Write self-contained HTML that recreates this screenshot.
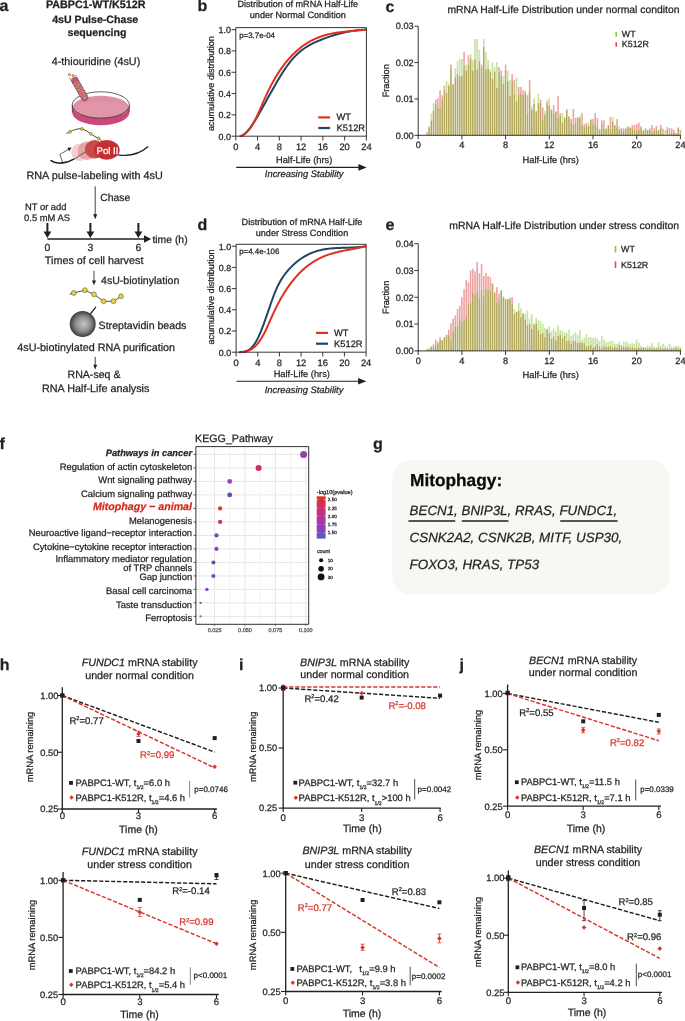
<!DOCTYPE html>
<html><head><meta charset="utf-8"><style>
html,body{margin:0;padding:0;background:#fff;}
svg{display:block;will-change:transform;filter:blur(0.25px);}
text{font-family:"Liberation Sans",sans-serif;text-rendering:geometricPrecision;}
</style></head><body>
<svg width="685" height="1021" viewBox="0 0 685 1021" fill="#231f20">
<defs>
<radialGradient id="bead" cx="0.5" cy="0.5" r="0.5" fx="0.55" fy="0.5">
<stop offset="0" stop-color="#c8c8c8"/><stop offset="0.6" stop-color="#8a8a8a"/><stop offset="1" stop-color="#3c3c3c"/>
</radialGradient>
<linearGradient id="cbar" x1="0" y1="0" x2="0" y2="1">
<stop offset="0" stop-color="#e0302c"/><stop offset="0.35" stop-color="#c8307a"/><stop offset="0.7" stop-color="#9a3ab8"/><stop offset="1" stop-color="#5a5cc0"/>
</linearGradient>
</defs>
<text x="-0.60" y="11.30" font-size="16" font-weight="bold" stroke="#231f20" stroke-width="0.25">a</text>
<text x="95.70" y="7.90" font-size="10.75" font-weight="bold" text-anchor="middle" stroke="#231f20" stroke-width="0.25">PABPC1-WT/K512R</text>
<text x="95.20" y="22.80" font-size="10.6" font-weight="bold" text-anchor="middle" stroke="#231f20" stroke-width="0.25">4sU Pulse-Chase</text>
<text x="97.00" y="35.60" font-size="10.6" font-weight="bold" text-anchor="middle" stroke="#231f20" stroke-width="0.25">sequencing</text>
<text x="96.00" y="64.50" font-size="10.75" text-anchor="middle" stroke="#231f20" stroke-width="0.25">4-thiouridine (4sU)</text>
<ellipse cx="100.80" cy="112.20" rx="28.60" ry="13.00" fill="#c9497c" stroke="none" stroke-width="0.5" />
<rect x="72.20" y="105.00" width="57.20" height="7.20" fill="#c9497c" />
<ellipse cx="100.80" cy="105.00" rx="28.60" ry="13.20" fill="#ffffff" stroke="none" stroke-width="0.5" />
<ellipse cx="100.80" cy="107.00" rx="27.80" ry="11.20" fill="#de8fa4" stroke="none" stroke-width="0.5" />
<ellipse cx="100.80" cy="109.50" rx="27.00" ry="8.20" fill="#e29aad" stroke="none" stroke-width="0.5" opacity="0.6"/>
<path d="M72.2,105 A28.6,13.2 0 0 1 129.4,105" fill="none" stroke="#231f20" stroke-width="0.7" />
<path d="M72.2,105 A28.6,13.2 0 0 0 129.4,105" fill="none" stroke="#231f20" stroke-width="0.75" />
<line x1="72.20" y1="105.00" x2="72.30" y2="112.20" stroke="#231f20" stroke-width="0.5" />
<line x1="129.40" y1="105.00" x2="129.30" y2="112.20" stroke="#231f20" stroke-width="0.5" />
<g transform="translate(72.5,76.2) rotate(-29.51)"><path d="M-3.3,4.2 A3.3,2.6 0 0 1 3.3,4.2 L3.3,24.51 A3.3,3.3 0 0 1 -3.3,24.51 Z" fill="#d6668e"/><path d="M-3.3,4.2 A3.3,2.6 0 0 1 3.3,4.2 L3.3,7 L-3.3,7 Z" fill="#c84a7c" opacity="0.8"/><path d="M-3.3,0 L-3.3,24.51 A3.3,3.3 0 0 0 3.3,24.51 L3.3,0" fill="none" stroke="#231f20" stroke-width="0.6" stroke-dasharray="1.4 0.5"/></g>
<circle cx="75.10" cy="82.90" r="1.20" fill="#e8d33c" stroke="#4a4020" stroke-width="0.45" />
<circle cx="78.80" cy="84.80" r="1.20" fill="#e8d33c" stroke="#4a4020" stroke-width="0.45" />
<circle cx="78.80" cy="89.60" r="1.20" fill="#e8d33c" stroke="#4a4020" stroke-width="0.45" />
<circle cx="82.60" cy="91.70" r="1.20" fill="#e8d33c" stroke="#4a4020" stroke-width="0.45" />
<circle cx="84.50" cy="97.80" r="1.20" fill="#e8d33c" stroke="#4a4020" stroke-width="0.45" />
<circle cx="69.40" cy="74.60" r="1.20" fill="#e8d33c" stroke="#4a4020" stroke-width="0.45" />
<circle cx="73.20" cy="75.70" r="1.20" fill="#e8d33c" stroke="#4a4020" stroke-width="0.45" />
<path d="M50.5,160.3 C56,164.5 66,164 75,158.5 C82,154 88,149.5 96,149.5" fill="none" stroke="#231f20" stroke-width="1.35" />
<ellipse cx="79.50" cy="152.30" rx="8.20" ry="8.80" fill="#f3cfcf" stroke="none" stroke-width="0.5" />
<ellipse cx="86.80" cy="150.70" rx="9.20" ry="9.20" fill="#e4a0a0" stroke="none" stroke-width="0.5" opacity="0.9"/>
<path d="M50.5,160.3 C56,164.5 66,164 75,158.5 C82,154 88,149.5 96,149.5" fill="none" stroke="#231f20" stroke-width="1.2" opacity="0.5"/>
<ellipse cx="94.50" cy="149.30" rx="9.60" ry="9.20" fill="#cc4a48" stroke="none" stroke-width="0.5" />
<ellipse cx="106.80" cy="149.90" rx="12.90" ry="9.80" fill="#c3302f" stroke="none" stroke-width="0.5" />
<text x="107.50" y="153.60" font-size="9.6" text-anchor="middle" fill="#ffffff" stroke="#ffffff" stroke-width="0.25">Pol II</text>
<path d="M118,154.8 C126,156 138,155.5 148.2,146.5" fill="none" stroke="#231f20" stroke-width="1.35" />
<path d="M62.6,162.4 L59.9,154.3 L69.0,149.2" fill="none" stroke="#231f20" stroke-width="0.7" />
<path d="M71.6,147.6 L67.4,147.8 L69.2,151.2 Z" fill="#231f20" stroke="none" stroke-width="0.8" />
<path d="M66.3,133.6 C71,131 78,127.5 83,129.2 C87,130.5 92,135.5 96,137 C98,138 100,139.5 101.5,140.8" fill="none" stroke="#231f20" stroke-width="0.8" />
<circle cx="69.90" cy="131.90" r="1.45" fill="#e8d33c" stroke="#4a4020" stroke-width="0.45" />
<circle cx="81.90" cy="129.00" r="1.45" fill="#e8d33c" stroke="#4a4020" stroke-width="0.45" />
<circle cx="90.80" cy="133.90" r="1.45" fill="#e8d33c" stroke="#4a4020" stroke-width="0.45" />
<circle cx="98.50" cy="138.30" r="1.45" fill="#e8d33c" stroke="#4a4020" stroke-width="0.45" />
<text x="26.50" y="178.60" font-size="10.8" stroke="#231f20" stroke-width="0.25">RNA pulse-labeling with 4sU</text>
<line x1="95.20" y1="186.40" x2="95.20" y2="215.50" stroke="#231f20" stroke-width="0.85" />
<path d="M93.2,214.3 L95.2,219.2 L97.2,214.3 Z" fill="#231f20" stroke="none" stroke-width="0.8" />
<text x="100.30" y="200.80" font-size="10.4" stroke="#231f20" stroke-width="0.25">Chase</text>
<text x="25.00" y="210.00" font-size="9.4" stroke="#231f20" stroke-width="0.25">NT or add</text>
<text x="24.10" y="220.60" font-size="9.4" stroke="#231f20" stroke-width="0.25">0.5 mM AS</text>
<line x1="47.40" y1="239.00" x2="145.50" y2="239.00" stroke="#231f20" stroke-width="1.4" />
<path d="M144.0,235.2 L151.2,239.0 L144.0,242.8 Z" fill="#231f20" stroke="none" stroke-width="0.8" />
<line x1="47.40" y1="223.00" x2="47.40" y2="232.50" stroke="#231f20" stroke-width="2.0" />
<path d="M43.50,231.4 L47.40,238.0 L51.30,231.4 Z" fill="#231f20" stroke="none" stroke-width="0.8" />
<line x1="90.40" y1="223.00" x2="90.40" y2="232.50" stroke="#231f20" stroke-width="2.0" />
<path d="M86.50,231.4 L90.40,238.0 L94.30,231.4 Z" fill="#231f20" stroke="none" stroke-width="0.8" />
<line x1="138.40" y1="223.00" x2="138.40" y2="232.50" stroke="#231f20" stroke-width="2.0" />
<path d="M134.50,231.4 L138.40,238.0 L142.30,231.4 Z" fill="#231f20" stroke="none" stroke-width="0.8" />
<text x="152.40" y="243.30" font-size="10.4" stroke="#231f20" stroke-width="0.25">time (h)</text>
<text x="47.40" y="250.80" font-size="10.4" text-anchor="middle" stroke="#231f20" stroke-width="0.25">0</text>
<text x="90.40" y="250.80" font-size="10.4" text-anchor="middle" stroke="#231f20" stroke-width="0.25">3</text>
<text x="138.40" y="250.80" font-size="10.4" text-anchor="middle" stroke="#231f20" stroke-width="0.25">6</text>
<text x="44.80" y="264.40" font-size="10.8" stroke="#231f20" stroke-width="0.25">Times of cell harvest</text>
<line x1="94.00" y1="270.80" x2="94.00" y2="281.50" stroke="#231f20" stroke-width="0.85" />
<path d="M92.0,280.4 L94.0,285.2 L96.0,280.4 Z" fill="#231f20" stroke="none" stroke-width="0.8" />
<text x="101.00" y="283.90" font-size="10.6" stroke="#231f20" stroke-width="0.25">4sU-biotinylation</text>
<path d="M69.6,294.2 L73.8,293.0 L84.9,290.2 L94.0,294.4 L103.5,301.3 L113.5,301.3 L121.0,296.3" fill="none" stroke="#231f20" stroke-width="0.8" />
<circle cx="73.80" cy="293.00" r="2.45" fill="#e8d33c" stroke="#5a5020" stroke-width="0.55" />
<circle cx="84.90" cy="290.20" r="2.45" fill="#e8d33c" stroke="#5a5020" stroke-width="0.55" />
<circle cx="94.00" cy="294.40" r="2.45" fill="#e8d33c" stroke="#5a5020" stroke-width="0.55" />
<circle cx="103.50" cy="301.30" r="2.45" fill="#e8d33c" stroke="#5a5020" stroke-width="0.55" />
<circle cx="113.50" cy="301.30" r="2.45" fill="#e8d33c" stroke="#5a5020" stroke-width="0.55" />
<circle cx="121.00" cy="296.30" r="2.45" fill="#e8d33c" stroke="#5a5020" stroke-width="0.55" />
<line x1="96.00" y1="306.90" x2="89.50" y2="315.00" stroke="#231f20" stroke-width="1.2" />
<circle cx="82.70" cy="324.00" r="13.00" fill="url(#bead)" stroke="none" stroke-width="0.5" />
<text x="98.60" y="329.10" font-size="10.6" stroke="#231f20" stroke-width="0.25">Streptavidin beads</text>
<text x="17.30" y="351.30" font-size="10.8" stroke="#231f20" stroke-width="0.25">4sU-biotinylated RNA purification</text>
<line x1="95.20" y1="356.80" x2="95.20" y2="366.00" stroke="#231f20" stroke-width="0.85" />
<path d="M93.2,364.8 L95.2,369.6 L97.2,364.8 Z" fill="#231f20" stroke="none" stroke-width="0.8" />
<text x="67.50" y="378.30" font-size="10.6" stroke="#231f20" stroke-width="0.25">RNA-seq &amp;</text>
<text x="42.00" y="392.20" font-size="10.8" stroke="#231f20" stroke-width="0.25">RNA Half-Life analysis</text>
<text x="197.60" y="11.40" font-size="16" font-weight="bold" stroke="#231f20" stroke-width="0.25">b</text>
<text x="297.80" y="6.60" font-size="9.1" text-anchor="middle" stroke="#231f20" stroke-width="0.25">Distribution of mRNA Half-Life</text>
<text x="297.80" y="18.40" font-size="9.1" text-anchor="middle" stroke="#231f20" stroke-width="0.25">under Normal Condition</text>
<path d="M239.83,136.20 L240.53,136.03 L241.24,135.77 L241.95,135.45 L242.66,135.07 L243.36,134.63 L244.07,134.13 L244.78,133.58 L245.48,132.97 L246.19,132.31 L246.90,131.60 L247.61,130.84 L248.31,130.04 L249.02,129.20 L249.73,128.32 L250.43,127.39 L251.14,126.43 L251.85,125.44 L252.55,124.41 L253.26,123.35 L253.97,122.27 L254.68,121.15 L255.38,120.02 L256.09,118.86 L256.80,117.68 L257.50,116.48 L258.21,115.27 L258.92,114.04 L259.63,112.81 L260.33,111.56 L261.04,110.30 L261.75,109.04 L262.45,107.78 L263.16,106.50 L263.87,105.23 L264.58,103.95 L265.28,102.67 L265.99,101.39 L266.70,100.11 L267.40,98.83 L268.11,97.55 L268.82,96.27 L269.53,94.99 L270.23,93.71 L270.94,92.44 L271.65,91.17 L272.35,89.91 L273.06,88.65 L273.77,87.40 L274.48,86.16 L275.18,84.92 L275.89,83.70 L276.60,82.48 L277.30,81.27 L278.01,80.07 L278.72,78.88 L279.43,77.71 L280.13,76.55 L280.84,75.40 L281.55,74.27 L282.25,73.15 L282.96,72.04 L283.67,70.96 L284.37,69.89 L285.08,68.84 L285.79,67.80 L286.50,66.79 L287.20,65.79 L287.91,64.82 L288.62,63.87 L289.32,62.94 L290.03,62.03 L290.74,61.15 L291.45,60.29 L292.15,59.45 L292.86,58.64 L293.57,57.85 L294.27,57.09 L294.98,56.34 L295.69,55.62 L296.40,54.92 L297.10,54.24 L297.81,53.58 L298.52,52.94 L299.22,52.32 L299.93,51.72 L300.64,51.13 L301.35,50.57 L302.05,50.02 L302.76,49.48 L303.47,48.97 L304.17,48.47 L304.88,47.98 L305.59,47.51 L306.30,47.05 L307.00,46.60 L307.71,46.17 L308.42,45.75 L309.12,45.35 L309.83,44.95 L310.54,44.57 L311.25,44.19 L311.95,43.83 L312.66,43.47 L313.37,43.13 L314.07,42.79 L314.78,42.46 L315.49,42.14 L316.20,41.82 L316.90,41.51 L317.61,41.21 L318.32,40.91 L319.02,40.62 L319.73,40.33 L320.44,40.04 L321.14,39.76 L321.85,39.48 L322.56,39.21 L323.27,38.94 L323.97,38.67 L324.68,38.40 L325.39,38.14 L326.09,37.88 L326.80,37.62 L327.51,37.37 L328.22,37.12 L328.92,36.88 L329.63,36.64 L330.34,36.40 L331.04,36.17 L331.75,35.94 L332.46,35.71 L333.17,35.49 L333.87,35.27 L334.58,35.05 L335.29,34.84 L335.99,34.63 L336.70,34.43 L337.41,34.22 L338.12,34.03 L338.82,33.83 L339.53,33.65 L340.24,33.46 L340.94,33.28 L341.65,33.10 L342.36,32.93 L343.07,32.76 L343.77,32.59 L344.48,32.43 L345.19,32.28 L345.89,32.12 L346.60,31.97 L347.31,31.83 L348.02,31.69 L348.72,31.55 L349.43,31.42 L350.14,31.29 L350.84,31.17 L351.55,31.05 L352.26,30.94 L352.96,30.83 L353.67,30.72 L354.38,30.62 L355.09,30.52 L355.79,30.43 L356.50,30.34 L357.21,30.26 L357.91,30.18 L358.62,30.11 L359.33,30.04 L360.04,29.97 L360.74,29.91 L361.45,29.86 L362.16,29.80 L362.86,29.76 L363.57,29.72 L364.28,29.68 L364.99,29.65 L365.69,29.62 L366.40,29.60" fill="none" stroke="#1d4762" stroke-width="2.0" stroke-linejoin="round"/>
<path d="M239.83,136.18 L240.53,136.06 L241.24,135.88 L241.95,135.63 L242.66,135.32 L243.36,134.94 L244.07,134.51 L244.78,134.01 L245.48,133.45 L246.19,132.83 L246.90,132.15 L247.61,131.41 L248.31,130.61 L249.02,129.75 L249.73,128.84 L250.43,127.86 L251.14,126.83 L251.85,125.73 L252.55,124.58 L253.26,123.38 L253.97,122.11 L254.68,120.79 L255.38,119.42 L256.09,118.00 L256.80,116.53 L257.50,115.03 L258.21,113.49 L258.92,111.92 L259.63,110.33 L260.33,108.72 L261.04,107.10 L261.75,105.47 L262.45,103.84 L263.16,102.21 L263.87,100.58 L264.58,98.97 L265.28,97.38 L265.99,95.81 L266.70,94.27 L267.40,92.76 L268.11,91.28 L268.82,89.82 L269.53,88.40 L270.23,87.00 L270.94,85.63 L271.65,84.28 L272.35,82.97 L273.06,81.67 L273.77,80.41 L274.48,79.17 L275.18,77.96 L275.89,76.77 L276.60,75.60 L277.30,74.46 L278.01,73.34 L278.72,72.24 L279.43,71.17 L280.13,70.12 L280.84,69.09 L281.55,68.08 L282.25,67.10 L282.96,66.13 L283.67,65.19 L284.37,64.26 L285.08,63.36 L285.79,62.47 L286.50,61.60 L287.20,60.75 L287.91,59.92 L288.62,59.10 L289.32,58.31 L290.03,57.53 L290.74,56.76 L291.45,56.01 L292.15,55.28 L292.86,54.56 L293.57,53.86 L294.27,53.17 L294.98,52.50 L295.69,51.84 L296.40,51.20 L297.10,50.57 L297.81,49.95 L298.52,49.35 L299.22,48.76 L299.93,48.19 L300.64,47.63 L301.35,47.08 L302.05,46.55 L302.76,46.03 L303.47,45.52 L304.17,45.03 L304.88,44.54 L305.59,44.07 L306.30,43.61 L307.00,43.17 L307.71,42.73 L308.42,42.31 L309.12,41.89 L309.83,41.49 L310.54,41.10 L311.25,40.72 L311.95,40.35 L312.66,39.99 L313.37,39.64 L314.07,39.31 L314.78,38.98 L315.49,38.66 L316.20,38.35 L316.90,38.05 L317.61,37.76 L318.32,37.48 L319.02,37.20 L319.73,36.94 L320.44,36.68 L321.14,36.43 L321.85,36.19 L322.56,35.96 L323.27,35.74 L323.97,35.52 L324.68,35.31 L325.39,35.11 L326.09,34.91 L326.80,34.73 L327.51,34.55 L328.22,34.37 L328.92,34.20 L329.63,34.04 L330.34,33.88 L331.04,33.73 L331.75,33.59 L332.46,33.45 L333.17,33.31 L333.87,33.18 L334.58,33.06 L335.29,32.94 L335.99,32.82 L336.70,32.71 L337.41,32.60 L338.12,32.50 L338.82,32.40 L339.53,32.30 L340.24,32.21 L340.94,32.12 L341.65,32.04 L342.36,31.95 L343.07,31.87 L343.77,31.80 L344.48,31.72 L345.19,31.65 L345.89,31.58 L346.60,31.51 L347.31,31.44 L348.02,31.37 L348.72,31.31 L349.43,31.25 L350.14,31.18 L350.84,31.12 L351.55,31.06 L352.26,31.00 L352.96,30.94 L353.67,30.88 L354.38,30.82 L355.09,30.76 L355.79,30.69 L356.50,30.63 L357.21,30.57 L357.91,30.50 L358.62,30.44 L359.33,30.37 L360.04,30.30 L360.74,30.23 L361.45,30.16 L362.16,30.09 L362.86,30.01 L363.57,29.93 L364.28,29.85 L364.99,29.77 L365.69,29.68 L366.40,29.60" fill="none" stroke="#e3301e" stroke-width="2.0" stroke-linejoin="round"/>
<path d="M235.80,27.60 L366.40,27.60 L366.40,136.20 L235.80,136.20 Z" fill="none" stroke="#231f20" stroke-width="0.9" />
<line x1="231.50" y1="136.20" x2="235.80" y2="136.20" stroke="#231f20" stroke-width="0.9" />
<text x="230.90" y="139.50" font-size="8.9" text-anchor="end" stroke="#231f20" stroke-width="0.25">0.0</text>
<line x1="231.50" y1="114.88" x2="235.80" y2="114.88" stroke="#231f20" stroke-width="0.9" />
<text x="230.90" y="118.18" font-size="8.9" text-anchor="end" stroke="#231f20" stroke-width="0.25">0.2</text>
<line x1="231.50" y1="93.56" x2="235.80" y2="93.56" stroke="#231f20" stroke-width="0.9" />
<text x="230.90" y="96.86" font-size="8.9" text-anchor="end" stroke="#231f20" stroke-width="0.25">0.4</text>
<line x1="231.50" y1="72.24" x2="235.80" y2="72.24" stroke="#231f20" stroke-width="0.9" />
<text x="230.90" y="75.54" font-size="8.9" text-anchor="end" stroke="#231f20" stroke-width="0.25">0.6</text>
<line x1="231.50" y1="50.92" x2="235.80" y2="50.92" stroke="#231f20" stroke-width="0.9" />
<text x="230.90" y="54.22" font-size="8.9" text-anchor="end" stroke="#231f20" stroke-width="0.25">0.8</text>
<line x1="231.50" y1="29.60" x2="235.80" y2="29.60" stroke="#231f20" stroke-width="0.9" />
<text x="230.90" y="32.90" font-size="8.9" text-anchor="end" stroke="#231f20" stroke-width="0.25">1.0</text>
<line x1="235.80" y1="136.20" x2="235.80" y2="140.50" stroke="#231f20" stroke-width="0.9" />
<text x="235.80" y="150.40" font-size="9.4" text-anchor="middle" stroke="#231f20" stroke-width="0.25">0</text>
<line x1="257.57" y1="136.20" x2="257.57" y2="140.50" stroke="#231f20" stroke-width="0.9" />
<text x="257.57" y="150.40" font-size="9.4" text-anchor="middle" stroke="#231f20" stroke-width="0.25">4</text>
<line x1="279.33" y1="136.20" x2="279.33" y2="140.50" stroke="#231f20" stroke-width="0.9" />
<text x="279.33" y="150.40" font-size="9.4" text-anchor="middle" stroke="#231f20" stroke-width="0.25">8</text>
<line x1="301.10" y1="136.20" x2="301.10" y2="140.50" stroke="#231f20" stroke-width="0.9" />
<text x="301.10" y="150.40" font-size="9.4" text-anchor="middle" stroke="#231f20" stroke-width="0.25">12</text>
<line x1="322.87" y1="136.20" x2="322.87" y2="140.50" stroke="#231f20" stroke-width="0.9" />
<text x="322.87" y="150.40" font-size="9.4" text-anchor="middle" stroke="#231f20" stroke-width="0.25">16</text>
<line x1="344.63" y1="136.20" x2="344.63" y2="140.50" stroke="#231f20" stroke-width="0.9" />
<text x="344.63" y="150.40" font-size="9.4" text-anchor="middle" stroke="#231f20" stroke-width="0.25">20</text>
<line x1="366.40" y1="136.20" x2="366.40" y2="140.50" stroke="#231f20" stroke-width="0.9" />
<text x="366.40" y="150.40" font-size="9.4" text-anchor="middle" stroke="#231f20" stroke-width="0.25">24</text>
<text x="304.10" y="162.80" font-size="9.3" text-anchor="middle" stroke="#231f20" stroke-width="0.25">Half-Life (hrs)</text>
<line x1="236.20" y1="167.40" x2="360.40" y2="167.40" stroke="#231f20" stroke-width="1.1" />
<path d="M358.40,164.10 L366.70,167.40 L358.40,170.70 Z" fill="#231f20" stroke="none" stroke-width="0.8" />
<text x="304.20" y="177.30" font-size="9.4" font-style="italic" text-anchor="middle" stroke="#231f20" stroke-width="0.25">Increasing Stability</text>
<text x="213.80" y="83.60" font-size="9.1" text-anchor="middle" transform="rotate(-90 213.8 83.60)" stroke="#231f20" stroke-width="0.25">acumulative distribution</text>
<text x="239.20" y="37.80" font-size="7.9" stroke="#231f20" stroke-width="0.25">p=3.7e-04</text>
<line x1="318.30" y1="117.40" x2="330.10" y2="117.40" stroke="#e3301e" stroke-width="2.2" />
<line x1="318.30" y1="128.00" x2="330.10" y2="128.00" stroke="#1d4762" stroke-width="2.2" />
<text x="336.60" y="119.90" font-size="9.3" stroke="#231f20" stroke-width="0.25">WT</text>
<text x="336.60" y="131.00" font-size="9.3" stroke="#231f20" stroke-width="0.25">K512R</text>
<text x="197.60" y="229.60" font-size="16" font-weight="bold" stroke="#231f20" stroke-width="0.25">d</text>
<text x="302.00" y="224.50" font-size="9.1" text-anchor="middle" stroke="#231f20" stroke-width="0.25">Distribution of mRNA Half-Life</text>
<text x="302.00" y="236.30" font-size="9.1" text-anchor="middle" stroke="#231f20" stroke-width="0.25">under Stress Condition</text>
<path d="M239.35,352.18 L240.06,352.16 L240.77,352.12 L241.47,352.07 L242.18,352.01 L242.89,351.92 L243.60,351.80 L244.31,351.66 L245.01,351.48 L245.72,351.26 L246.43,351.01 L247.14,350.71 L247.85,350.36 L248.56,349.96 L249.26,349.50 L249.97,348.99 L250.68,348.41 L251.39,347.76 L252.10,347.05 L252.80,346.26 L253.51,345.39 L254.22,344.44 L254.93,343.40 L255.64,342.27 L256.34,341.05 L257.05,339.75 L257.76,338.36 L258.47,336.89 L259.18,335.35 L259.88,333.74 L260.59,332.06 L261.30,330.33 L262.01,328.53 L262.72,326.69 L263.43,324.80 L264.13,322.87 L264.84,320.90 L265.55,318.90 L266.26,316.87 L266.97,314.82 L267.67,312.76 L268.38,310.69 L269.09,308.62 L269.80,306.57 L270.51,304.52 L271.21,302.50 L271.92,300.51 L272.63,298.55 L273.34,296.64 L274.05,294.77 L274.76,292.97 L275.46,291.23 L276.17,289.56 L276.88,287.96 L277.59,286.44 L278.30,284.99 L279.00,283.60 L279.71,282.28 L280.42,281.01 L281.13,279.81 L281.84,278.65 L282.54,277.55 L283.25,276.49 L283.96,275.48 L284.67,274.51 L285.38,273.58 L286.08,272.68 L286.79,271.82 L287.50,270.98 L288.21,270.17 L288.92,269.38 L289.63,268.61 L290.33,267.86 L291.04,267.12 L291.75,266.41 L292.46,265.71 L293.17,265.04 L293.87,264.38 L294.58,263.73 L295.29,263.11 L296.00,262.50 L296.71,261.91 L297.41,261.33 L298.12,260.77 L298.83,260.23 L299.54,259.70 L300.25,259.19 L300.95,258.69 L301.66,258.21 L302.37,257.75 L303.08,257.29 L303.79,256.86 L304.50,256.43 L305.20,256.02 L305.91,255.63 L306.62,255.25 L307.33,254.88 L308.04,254.52 L308.74,254.18 L309.45,253.84 L310.16,253.53 L310.87,253.22 L311.58,252.92 L312.28,252.64 L312.99,252.36 L313.70,252.10 L314.41,251.85 L315.12,251.61 L315.82,251.38 L316.53,251.16 L317.24,250.95 L317.95,250.75 L318.66,250.56 L319.37,250.37 L320.07,250.20 L320.78,250.03 L321.49,249.87 L322.20,249.73 L322.91,249.58 L323.61,249.45 L324.32,249.32 L325.03,249.20 L325.74,249.09 L326.45,248.99 L327.15,248.89 L327.86,248.79 L328.57,248.70 L329.28,248.62 L329.99,248.55 L330.69,248.48 L331.40,248.41 L332.11,248.35 L332.82,248.29 L333.53,248.24 L334.24,248.19 L334.94,248.14 L335.65,248.10 L336.36,248.06 L337.07,248.03 L337.78,247.99 L338.48,247.96 L339.19,247.94 L339.90,247.91 L340.61,247.89 L341.32,247.86 L342.02,247.84 L342.73,247.82 L343.44,247.80 L344.15,247.78 L344.86,247.77 L345.57,247.75 L346.27,247.73 L346.98,247.71 L347.69,247.69 L348.40,247.67 L349.11,247.65 L349.81,247.63 L350.52,247.60 L351.23,247.58 L351.94,247.55 L352.65,247.52 L353.35,247.48 L354.06,247.45 L354.77,247.41 L355.48,247.37 L356.19,247.32 L356.89,247.27 L357.60,247.22 L358.31,247.16 L359.02,247.10 L359.73,247.03 L360.44,246.96 L361.14,246.89 L361.85,246.80 L362.56,246.72 L363.27,246.62 L363.98,246.52 L364.68,246.42 L365.39,246.30 L366.10,246.20" fill="none" stroke="#1d4762" stroke-width="2.0" stroke-linejoin="round"/>
<path d="M239.35,352.19 L240.06,352.13 L240.77,352.08 L241.47,352.03 L242.18,351.96 L242.89,351.90 L243.60,351.81 L244.31,351.72 L245.01,351.60 L245.72,351.47 L246.43,351.31 L247.14,351.12 L247.85,350.90 L248.56,350.65 L249.26,350.36 L249.97,350.03 L250.68,349.66 L251.39,349.25 L252.10,348.80 L252.80,348.30 L253.51,347.76 L254.22,347.17 L254.93,346.53 L255.64,345.85 L256.34,345.11 L257.05,344.33 L257.76,343.49 L258.47,342.60 L259.18,341.65 L259.88,340.65 L260.59,339.60 L261.30,338.48 L262.01,337.31 L262.72,336.08 L263.43,334.79 L264.13,333.44 L264.84,332.04 L265.55,330.59 L266.26,329.10 L266.97,327.58 L267.67,326.03 L268.38,324.46 L269.09,322.87 L269.80,321.27 L270.51,319.67 L271.21,318.07 L271.92,316.48 L272.63,314.91 L273.34,313.35 L274.05,311.82 L274.76,310.32 L275.46,308.85 L276.17,307.41 L276.88,305.99 L277.59,304.61 L278.30,303.25 L279.00,301.92 L279.71,300.62 L280.42,299.34 L281.13,298.09 L281.84,296.87 L282.54,295.66 L283.25,294.49 L283.96,293.33 L284.67,292.20 L285.38,291.09 L286.08,290.01 L286.79,288.94 L287.50,287.90 L288.21,286.87 L288.92,285.87 L289.63,284.89 L290.33,283.92 L291.04,282.98 L291.75,282.05 L292.46,281.14 L293.17,280.26 L293.87,279.39 L294.58,278.53 L295.29,277.70 L296.00,276.88 L296.71,276.09 L297.41,275.31 L298.12,274.54 L298.83,273.79 L299.54,273.06 L300.25,272.35 L300.95,271.65 L301.66,270.97 L302.37,270.30 L303.08,269.65 L303.79,269.02 L304.50,268.40 L305.20,267.79 L305.91,267.20 L306.62,266.62 L307.33,266.06 L308.04,265.51 L308.74,264.98 L309.45,264.45 L310.16,263.95 L310.87,263.45 L311.58,262.97 L312.28,262.50 L312.99,262.04 L313.70,261.59 L314.41,261.16 L315.12,260.74 L315.82,260.33 L316.53,259.93 L317.24,259.54 L317.95,259.16 L318.66,258.79 L319.37,258.44 L320.07,258.09 L320.78,257.75 L321.49,257.43 L322.20,257.11 L322.91,256.80 L323.61,256.50 L324.32,256.21 L325.03,255.92 L325.74,255.65 L326.45,255.38 L327.15,255.12 L327.86,254.87 L328.57,254.62 L329.28,254.39 L329.99,254.16 L330.69,253.93 L331.40,253.72 L332.11,253.50 L332.82,253.30 L333.53,253.10 L334.24,252.91 L334.94,252.72 L335.65,252.53 L336.36,252.35 L337.07,252.18 L337.78,252.01 L338.48,251.84 L339.19,251.68 L339.90,251.52 L340.61,251.37 L341.32,251.22 L342.02,251.07 L342.73,250.92 L343.44,250.78 L344.15,250.64 L344.86,250.50 L345.57,250.36 L346.27,250.23 L346.98,250.10 L347.69,249.96 L348.40,249.83 L349.11,249.70 L349.81,249.57 L350.52,249.44 L351.23,249.31 L351.94,249.18 L352.65,249.05 L353.35,248.92 L354.06,248.78 L354.77,248.65 L355.48,248.52 L356.19,248.38 L356.89,248.24 L357.60,248.10 L358.31,247.96 L359.02,247.82 L359.73,247.67 L360.44,247.52 L361.14,247.37 L361.85,247.21 L362.56,247.05 L363.27,246.88 L363.98,246.72 L364.68,246.54 L365.39,246.37 L366.10,246.20" fill="none" stroke="#e3301e" stroke-width="2.0" stroke-linejoin="round"/>
<path d="M236.10,244.30 L366.10,244.30 L366.10,352.20 L236.10,352.20 Z" fill="none" stroke="#231f20" stroke-width="0.9" />
<line x1="231.80" y1="352.20" x2="236.10" y2="352.20" stroke="#231f20" stroke-width="0.9" />
<text x="231.20" y="355.50" font-size="8.9" text-anchor="end" stroke="#231f20" stroke-width="0.25">0.0</text>
<line x1="231.80" y1="331.00" x2="236.10" y2="331.00" stroke="#231f20" stroke-width="0.9" />
<text x="231.20" y="334.30" font-size="8.9" text-anchor="end" stroke="#231f20" stroke-width="0.25">0.2</text>
<line x1="231.80" y1="309.80" x2="236.10" y2="309.80" stroke="#231f20" stroke-width="0.9" />
<text x="231.20" y="313.10" font-size="8.9" text-anchor="end" stroke="#231f20" stroke-width="0.25">0.4</text>
<line x1="231.80" y1="288.60" x2="236.10" y2="288.60" stroke="#231f20" stroke-width="0.9" />
<text x="231.20" y="291.90" font-size="8.9" text-anchor="end" stroke="#231f20" stroke-width="0.25">0.6</text>
<line x1="231.80" y1="267.40" x2="236.10" y2="267.40" stroke="#231f20" stroke-width="0.9" />
<text x="231.20" y="270.70" font-size="8.9" text-anchor="end" stroke="#231f20" stroke-width="0.25">0.8</text>
<line x1="231.80" y1="246.20" x2="236.10" y2="246.20" stroke="#231f20" stroke-width="0.9" />
<text x="231.20" y="249.50" font-size="8.9" text-anchor="end" stroke="#231f20" stroke-width="0.25">1.0</text>
<line x1="236.10" y1="352.20" x2="236.10" y2="356.50" stroke="#231f20" stroke-width="0.9" />
<text x="236.10" y="366.30" font-size="9.4" text-anchor="middle" stroke="#231f20" stroke-width="0.25">0</text>
<line x1="257.77" y1="352.20" x2="257.77" y2="356.50" stroke="#231f20" stroke-width="0.9" />
<text x="257.77" y="366.30" font-size="9.4" text-anchor="middle" stroke="#231f20" stroke-width="0.25">4</text>
<line x1="279.43" y1="352.20" x2="279.43" y2="356.50" stroke="#231f20" stroke-width="0.9" />
<text x="279.43" y="366.30" font-size="9.4" text-anchor="middle" stroke="#231f20" stroke-width="0.25">8</text>
<line x1="301.10" y1="352.20" x2="301.10" y2="356.50" stroke="#231f20" stroke-width="0.9" />
<text x="301.10" y="366.30" font-size="9.4" text-anchor="middle" stroke="#231f20" stroke-width="0.25">12</text>
<line x1="322.77" y1="352.20" x2="322.77" y2="356.50" stroke="#231f20" stroke-width="0.9" />
<text x="322.77" y="366.30" font-size="9.4" text-anchor="middle" stroke="#231f20" stroke-width="0.25">16</text>
<line x1="344.43" y1="352.20" x2="344.43" y2="356.50" stroke="#231f20" stroke-width="0.9" />
<text x="344.43" y="366.30" font-size="9.4" text-anchor="middle" stroke="#231f20" stroke-width="0.25">20</text>
<line x1="366.10" y1="352.20" x2="366.10" y2="356.50" stroke="#231f20" stroke-width="0.9" />
<text x="366.10" y="366.30" font-size="9.4" text-anchor="middle" stroke="#231f20" stroke-width="0.25">24</text>
<text x="301.80" y="376.80" font-size="9.3" text-anchor="middle" stroke="#231f20" stroke-width="0.25">Half-Life (hrs)</text>
<line x1="236.50" y1="381.20" x2="360.10" y2="381.20" stroke="#231f20" stroke-width="1.1" />
<path d="M358.10,377.90 L366.40,381.20 L358.10,384.50 Z" fill="#231f20" stroke="none" stroke-width="0.8" />
<text x="304.00" y="392.80" font-size="9.4" font-style="italic" text-anchor="middle" stroke="#231f20" stroke-width="0.25">Increasing Stability</text>
<text x="213.80" y="296.95" font-size="9.1" text-anchor="middle" transform="rotate(-90 213.8 296.95)" stroke="#231f20" stroke-width="0.25">acumulative distribution</text>
<text x="239.20" y="254.10" font-size="7.9" stroke="#231f20" stroke-width="0.25">p=4.4e-106</text>
<line x1="316.00" y1="332.90" x2="328.00" y2="332.90" stroke="#e3301e" stroke-width="2.2" />
<line x1="316.00" y1="343.70" x2="328.00" y2="343.70" stroke="#1d4762" stroke-width="2.2" />
<text x="334.10" y="335.50" font-size="9.3" stroke="#231f20" stroke-width="0.25">WT</text>
<text x="334.10" y="346.50" font-size="9.3" stroke="#231f20" stroke-width="0.25">K512R</text>
<rect x="426.14" y="132.17" width="1.60" height="2.35" fill="#eea4a4" />
<rect x="426.14" y="134.52" width="1.60" height="0.78" fill="#b3a95c" />
<rect x="428.32" y="126.30" width="1.60" height="0.82" fill="#c7e2a1" />
<rect x="428.32" y="127.12" width="1.60" height="8.18" fill="#b3a95c" />
<rect x="430.51" y="113.38" width="1.60" height="7.05" fill="#c7e2a1" />
<rect x="430.51" y="120.42" width="1.60" height="14.88" fill="#b3a95c" />
<rect x="432.69" y="103.16" width="1.60" height="7.87" fill="#c7e2a1" />
<rect x="432.69" y="111.03" width="1.60" height="24.27" fill="#b3a95c" />
<rect x="434.88" y="99.87" width="1.60" height="4.11" fill="#eea4a4" />
<rect x="434.88" y="103.98" width="1.60" height="31.32" fill="#b3a95c" />
<rect x="437.06" y="98.11" width="1.60" height="9.40" fill="#eea4a4" />
<rect x="437.06" y="107.50" width="1.60" height="27.80" fill="#b3a95c" />
<rect x="439.25" y="90.24" width="1.60" height="18.44" fill="#eea4a4" />
<rect x="439.25" y="108.68" width="1.60" height="26.62" fill="#b3a95c" />
<rect x="441.44" y="95.17" width="1.60" height="4.70" fill="#eea4a4" />
<rect x="441.44" y="99.87" width="1.60" height="35.43" fill="#b3a95c" />
<rect x="443.62" y="85.77" width="1.60" height="4.46" fill="#eea4a4" />
<rect x="443.62" y="90.24" width="1.60" height="45.06" fill="#b3a95c" />
<rect x="445.81" y="81.08" width="1.60" height="11.75" fill="#c7e2a1" />
<rect x="445.81" y="92.82" width="1.60" height="42.48" fill="#b3a95c" />
<rect x="447.99" y="83.42" width="1.60" height="2.35" fill="#c7e2a1" />
<rect x="447.99" y="85.77" width="1.60" height="49.53" fill="#b3a95c" />
<rect x="450.18" y="64.63" width="1.60" height="3.52" fill="#eea4a4" />
<rect x="450.18" y="68.16" width="1.60" height="67.14" fill="#b3a95c" />
<rect x="452.36" y="84.36" width="1.60" height="0.00" fill="#eea4a4" />
<rect x="452.36" y="84.36" width="1.60" height="50.94" fill="#b3a95c" />
<rect x="454.54" y="68.16" width="1.60" height="9.40" fill="#c7e2a1" />
<rect x="454.54" y="77.55" width="1.60" height="57.75" fill="#b3a95c" />
<rect x="456.73" y="61.11" width="1.60" height="12.92" fill="#c7e2a1" />
<rect x="456.73" y="74.03" width="1.60" height="61.27" fill="#b3a95c" />
<rect x="458.91" y="58.99" width="1.60" height="17.15" fill="#c7e2a1" />
<rect x="458.91" y="76.14" width="1.60" height="59.16" fill="#b3a95c" />
<rect x="461.10" y="58.99" width="1.60" height="17.15" fill="#c7e2a1" />
<rect x="461.10" y="76.14" width="1.60" height="59.16" fill="#b3a95c" />
<rect x="463.28" y="51.95" width="1.60" height="13.86" fill="#eea4a4" />
<rect x="463.28" y="65.81" width="1.60" height="69.49" fill="#b3a95c" />
<rect x="465.47" y="64.63" width="1.60" height="5.87" fill="#c7e2a1" />
<rect x="465.47" y="70.51" width="1.60" height="64.79" fill="#b3a95c" />
<rect x="467.65" y="55.24" width="1.60" height="9.40" fill="#eea4a4" />
<rect x="467.65" y="64.63" width="1.60" height="70.67" fill="#b3a95c" />
<rect x="469.84" y="54.06" width="1.60" height="4.70" fill="#c7e2a1" />
<rect x="469.84" y="58.76" width="1.60" height="76.54" fill="#b3a95c" />
<rect x="472.02" y="59.93" width="1.60" height="10.57" fill="#c7e2a1" />
<rect x="472.02" y="70.51" width="1.60" height="64.79" fill="#b3a95c" />
<rect x="474.21" y="39.03" width="1.60" height="20.32" fill="#c7e2a1" />
<rect x="474.21" y="59.35" width="1.60" height="75.95" fill="#b3a95c" />
<rect x="476.39" y="39.03" width="1.60" height="30.30" fill="#c7e2a1" />
<rect x="476.39" y="69.33" width="1.60" height="65.97" fill="#b3a95c" />
<rect x="478.58" y="49.60" width="1.60" height="11.51" fill="#c7e2a1" />
<rect x="478.58" y="61.11" width="1.60" height="74.19" fill="#b3a95c" />
<rect x="480.76" y="64.63" width="1.60" height="2.94" fill="#eea4a4" />
<rect x="480.76" y="67.57" width="1.60" height="67.73" fill="#b3a95c" />
<rect x="482.95" y="39.03" width="1.60" height="7.99" fill="#c7e2a1" />
<rect x="482.95" y="47.01" width="1.60" height="88.29" fill="#b3a95c" />
<rect x="485.13" y="51.95" width="1.60" height="17.38" fill="#c7e2a1" />
<rect x="485.13" y="69.33" width="1.60" height="65.97" fill="#b3a95c" />
<rect x="487.32" y="59.93" width="1.60" height="8.22" fill="#c7e2a1" />
<rect x="487.32" y="68.16" width="1.60" height="67.14" fill="#b3a95c" />
<rect x="489.50" y="69.33" width="1.60" height="2.35" fill="#c7e2a1" />
<rect x="489.50" y="71.68" width="1.60" height="63.62" fill="#b3a95c" />
<rect x="491.69" y="62.05" width="1.60" height="16.68" fill="#c7e2a1" />
<rect x="491.69" y="78.73" width="1.60" height="56.57" fill="#b3a95c" />
<rect x="493.88" y="66.98" width="1.60" height="4.70" fill="#c7e2a1" />
<rect x="493.88" y="71.68" width="1.60" height="63.62" fill="#b3a95c" />
<rect x="496.06" y="62.05" width="1.60" height="25.84" fill="#c7e2a1" />
<rect x="496.06" y="87.89" width="1.60" height="47.41" fill="#b3a95c" />
<rect x="498.25" y="66.98" width="1.60" height="4.70" fill="#eea4a4" />
<rect x="498.25" y="71.68" width="1.60" height="63.62" fill="#b3a95c" />
<rect x="500.43" y="70.51" width="1.60" height="5.64" fill="#eea4a4" />
<rect x="500.43" y="76.14" width="1.60" height="59.16" fill="#b3a95c" />
<rect x="502.62" y="76.14" width="1.60" height="7.28" fill="#c7e2a1" />
<rect x="502.62" y="83.42" width="1.60" height="51.88" fill="#b3a95c" />
<rect x="504.80" y="64.63" width="1.60" height="5.87" fill="#eea4a4" />
<rect x="504.80" y="70.51" width="1.60" height="64.79" fill="#b3a95c" />
<rect x="506.99" y="70.51" width="1.60" height="10.57" fill="#c7e2a1" />
<rect x="506.99" y="81.08" width="1.60" height="54.22" fill="#b3a95c" />
<rect x="509.17" y="79.90" width="1.60" height="16.21" fill="#c7e2a1" />
<rect x="509.17" y="96.11" width="1.60" height="39.19" fill="#b3a95c" />
<rect x="511.35" y="74.03" width="1.60" height="7.05" fill="#eea4a4" />
<rect x="511.35" y="81.08" width="1.60" height="54.22" fill="#b3a95c" />
<rect x="513.54" y="79.90" width="1.60" height="13.86" fill="#eea4a4" />
<rect x="513.54" y="93.76" width="1.60" height="41.54" fill="#b3a95c" />
<rect x="515.73" y="77.32" width="1.60" height="23.49" fill="#c7e2a1" />
<rect x="515.73" y="100.81" width="1.60" height="34.49" fill="#b3a95c" />
<rect x="517.91" y="86.95" width="1.60" height="7.99" fill="#eea4a4" />
<rect x="517.91" y="94.94" width="1.60" height="40.36" fill="#b3a95c" />
<rect x="520.10" y="86.95" width="1.60" height="6.81" fill="#eea4a4" />
<rect x="520.10" y="93.76" width="1.60" height="41.54" fill="#b3a95c" />
<rect x="522.28" y="90.24" width="1.60" height="4.70" fill="#eea4a4" />
<rect x="522.28" y="94.94" width="1.60" height="40.36" fill="#b3a95c" />
<rect x="524.47" y="90.24" width="1.60" height="2.58" fill="#c7e2a1" />
<rect x="524.47" y="92.82" width="1.60" height="42.48" fill="#b3a95c" />
<rect x="526.65" y="95.17" width="1.60" height="18.21" fill="#eea4a4" />
<rect x="526.65" y="113.38" width="1.60" height="21.92" fill="#b3a95c" />
<rect x="528.84" y="79.90" width="1.60" height="11.16" fill="#eea4a4" />
<rect x="528.84" y="91.06" width="1.60" height="44.24" fill="#b3a95c" />
<rect x="531.02" y="106.33" width="1.60" height="3.52" fill="#c7e2a1" />
<rect x="531.02" y="109.85" width="1.60" height="25.45" fill="#b3a95c" />
<rect x="533.21" y="98.11" width="1.60" height="5.87" fill="#c7e2a1" />
<rect x="533.21" y="103.98" width="1.60" height="31.32" fill="#b3a95c" />
<rect x="535.39" y="111.03" width="1.60" height="1.17" fill="#eea4a4" />
<rect x="535.39" y="112.20" width="1.60" height="23.10" fill="#b3a95c" />
<rect x="537.58" y="93.76" width="1.60" height="9.40" fill="#c7e2a1" />
<rect x="537.58" y="103.16" width="1.60" height="32.14" fill="#b3a95c" />
<rect x="539.76" y="99.63" width="1.60" height="3.52" fill="#eea4a4" />
<rect x="539.76" y="103.16" width="1.60" height="32.14" fill="#b3a95c" />
<rect x="541.95" y="107.50" width="1.60" height="11.75" fill="#eea4a4" />
<rect x="541.95" y="119.25" width="1.60" height="16.05" fill="#b3a95c" />
<rect x="544.13" y="111.03" width="1.60" height="3.88" fill="#c7e2a1" />
<rect x="544.13" y="114.90" width="1.60" height="20.40" fill="#b3a95c" />
<rect x="546.32" y="100.81" width="1.60" height="2.35" fill="#eea4a4" />
<rect x="546.32" y="103.16" width="1.60" height="32.14" fill="#b3a95c" />
<rect x="548.50" y="98.11" width="1.60" height="7.40" fill="#c7e2a1" />
<rect x="548.50" y="105.51" width="1.60" height="29.79" fill="#b3a95c" />
<rect x="550.69" y="109.03" width="1.60" height="1.17" fill="#c7e2a1" />
<rect x="550.69" y="110.20" width="1.60" height="25.10" fill="#b3a95c" />
<rect x="552.87" y="105.15" width="1.60" height="8.22" fill="#eea4a4" />
<rect x="552.87" y="113.38" width="1.60" height="21.92" fill="#b3a95c" />
<rect x="555.06" y="111.09" width="1.60" height="0.51" fill="#c7e2a1" />
<rect x="555.06" y="111.60" width="1.60" height="23.70" fill="#b3a95c" />
<rect x="557.24" y="95.97" width="1.60" height="22.07" fill="#eea4a4" />
<rect x="557.24" y="118.04" width="1.60" height="17.26" fill="#b3a95c" />
<rect x="559.43" y="113.14" width="1.60" height="2.55" fill="#eea4a4" />
<rect x="559.43" y="115.69" width="1.60" height="19.61" fill="#b3a95c" />
<rect x="561.61" y="113.14" width="1.60" height="9.71" fill="#c7e2a1" />
<rect x="561.61" y="122.84" width="1.60" height="12.46" fill="#b3a95c" />
<rect x="563.80" y="117.22" width="1.60" height="0.51" fill="#c7e2a1" />
<rect x="563.80" y="117.74" width="1.60" height="17.56" fill="#b3a95c" />
<rect x="565.98" y="109.05" width="1.60" height="1.02" fill="#c7e2a1" />
<rect x="565.98" y="110.07" width="1.60" height="25.23" fill="#b3a95c" />
<rect x="568.17" y="116.00" width="1.60" height="0.72" fill="#c7e2a1" />
<rect x="568.17" y="116.71" width="1.60" height="18.59" fill="#b3a95c" />
<rect x="570.35" y="119.06" width="1.60" height="3.78" fill="#eea4a4" />
<rect x="570.35" y="122.84" width="1.60" height="12.46" fill="#b3a95c" />
<rect x="572.54" y="108.85" width="1.60" height="15.33" fill="#eea4a4" />
<rect x="572.54" y="124.17" width="1.60" height="11.13" fill="#b3a95c" />
<rect x="574.72" y="118.04" width="1.60" height="4.80" fill="#eea4a4" />
<rect x="574.72" y="122.84" width="1.60" height="12.46" fill="#b3a95c" />
<rect x="576.91" y="117.02" width="1.60" height="0.72" fill="#eea4a4" />
<rect x="576.91" y="117.74" width="1.60" height="17.56" fill="#b3a95c" />
<rect x="579.09" y="115.69" width="1.60" height="2.35" fill="#c7e2a1" />
<rect x="579.09" y="118.04" width="1.60" height="17.26" fill="#b3a95c" />
<rect x="581.28" y="113.14" width="1.60" height="11.75" fill="#eea4a4" />
<rect x="581.28" y="124.89" width="1.60" height="10.41" fill="#b3a95c" />
<rect x="583.46" y="124.17" width="1.60" height="3.07" fill="#eea4a4" />
<rect x="583.46" y="127.24" width="1.60" height="8.06" fill="#b3a95c" />
<rect x="585.64" y="122.84" width="1.60" height="2.04" fill="#eea4a4" />
<rect x="585.64" y="124.89" width="1.60" height="10.41" fill="#b3a95c" />
<rect x="587.83" y="122.84" width="1.60" height="3.37" fill="#c7e2a1" />
<rect x="587.83" y="126.22" width="1.60" height="9.08" fill="#b3a95c" />
<rect x="590.02" y="119.06" width="1.60" height="0.72" fill="#c7e2a1" />
<rect x="590.02" y="119.78" width="1.60" height="15.52" fill="#b3a95c" />
<rect x="592.20" y="119.06" width="1.60" height="5.11" fill="#eea4a4" />
<rect x="592.20" y="124.17" width="1.60" height="11.13" fill="#b3a95c" />
<rect x="594.38" y="113.14" width="1.60" height="11.04" fill="#eea4a4" />
<rect x="594.38" y="124.17" width="1.60" height="11.13" fill="#b3a95c" />
<rect x="596.57" y="118.04" width="1.60" height="9.20" fill="#eea4a4" />
<rect x="596.57" y="127.24" width="1.60" height="8.06" fill="#b3a95c" />
<rect x="598.76" y="128.67" width="1.60" height="1.33" fill="#c7e2a1" />
<rect x="598.76" y="130.00" width="1.60" height="5.30" fill="#b3a95c" />
<rect x="600.94" y="120.29" width="1.60" height="4.60" fill="#eea4a4" />
<rect x="600.94" y="124.89" width="1.60" height="10.41" fill="#b3a95c" />
<rect x="603.12" y="120.29" width="1.60" height="7.97" fill="#eea4a4" />
<rect x="603.12" y="128.26" width="1.60" height="7.04" fill="#b3a95c" />
<rect x="605.31" y="128.26" width="1.60" height="0.72" fill="#c7e2a1" />
<rect x="605.31" y="128.98" width="1.60" height="6.32" fill="#b3a95c" />
<rect x="607.50" y="124.89" width="1.60" height="1.02" fill="#eea4a4" />
<rect x="607.50" y="125.91" width="1.60" height="9.39" fill="#b3a95c" />
<rect x="609.68" y="117.02" width="1.60" height="11.44" fill="#eea4a4" />
<rect x="609.68" y="128.47" width="1.60" height="6.83" fill="#b3a95c" />
<rect x="611.87" y="117.02" width="1.60" height="4.80" fill="#c7e2a1" />
<rect x="611.87" y="121.82" width="1.60" height="13.48" fill="#b3a95c" />
<rect x="614.05" y="124.89" width="1.60" height="1.02" fill="#eea4a4" />
<rect x="614.05" y="125.91" width="1.60" height="9.39" fill="#b3a95c" />
<rect x="616.24" y="119.06" width="1.60" height="8.17" fill="#eea4a4" />
<rect x="616.24" y="127.24" width="1.60" height="8.06" fill="#b3a95c" />
<rect x="618.42" y="126.07" width="1.60" height="3.73" fill="#c7e2a1" />
<rect x="618.42" y="129.80" width="1.60" height="5.50" fill="#b3a95c" />
<rect x="620.61" y="128.20" width="1.60" height="0.53" fill="#c7e2a1" />
<rect x="620.61" y="128.73" width="1.60" height="6.57" fill="#b3a95c" />
<rect x="622.79" y="128.20" width="1.60" height="2.66" fill="#eea4a4" />
<rect x="622.79" y="130.87" width="1.60" height="4.43" fill="#b3a95c" />
<rect x="624.98" y="128.20" width="1.60" height="0.53" fill="#c7e2a1" />
<rect x="624.98" y="128.73" width="1.60" height="6.57" fill="#b3a95c" />
<rect x="627.16" y="126.07" width="1.60" height="1.07" fill="#c7e2a1" />
<rect x="627.16" y="127.14" width="1.60" height="8.16" fill="#b3a95c" />
<rect x="629.35" y="127.14" width="1.60" height="0.53" fill="#c7e2a1" />
<rect x="629.35" y="127.67" width="1.60" height="7.63" fill="#b3a95c" />
<rect x="631.53" y="125.00" width="1.60" height="3.20" fill="#eea4a4" />
<rect x="631.53" y="128.20" width="1.60" height="7.10" fill="#b3a95c" />
<rect x="633.72" y="125.00" width="1.60" height="5.86" fill="#eea4a4" />
<rect x="633.72" y="130.87" width="1.60" height="4.43" fill="#b3a95c" />
<rect x="635.90" y="123.94" width="1.60" height="5.86" fill="#eea4a4" />
<rect x="635.90" y="129.80" width="1.60" height="5.50" fill="#b3a95c" />
<rect x="638.09" y="122.66" width="1.60" height="7.14" fill="#eea4a4" />
<rect x="638.09" y="129.80" width="1.60" height="5.50" fill="#b3a95c" />
<rect x="640.27" y="126.07" width="1.60" height="1.07" fill="#c7e2a1" />
<rect x="640.27" y="127.14" width="1.60" height="8.16" fill="#b3a95c" />
<rect x="642.46" y="129.80" width="1.60" height="1.07" fill="#c7e2a1" />
<rect x="642.46" y="130.87" width="1.60" height="4.43" fill="#b3a95c" />
<rect x="644.64" y="128.20" width="1.60" height="0.53" fill="#c7e2a1" />
<rect x="644.64" y="128.73" width="1.60" height="6.57" fill="#b3a95c" />
<rect x="646.83" y="129.80" width="1.60" height="0.32" fill="#c7e2a1" />
<rect x="646.83" y="130.12" width="1.60" height="5.18" fill="#b3a95c" />
<rect x="649.01" y="128.20" width="1.60" height="1.60" fill="#eea4a4" />
<rect x="649.01" y="129.80" width="1.60" height="5.50" fill="#b3a95c" />
<rect x="651.20" y="125.00" width="1.60" height="7.25" fill="#eea4a4" />
<rect x="651.20" y="132.25" width="1.60" height="3.05" fill="#b3a95c" />
<rect x="653.38" y="128.20" width="1.60" height="2.66" fill="#eea4a4" />
<rect x="653.38" y="130.87" width="1.60" height="4.43" fill="#b3a95c" />
<rect x="655.57" y="126.07" width="1.60" height="3.73" fill="#eea4a4" />
<rect x="655.57" y="129.80" width="1.60" height="5.50" fill="#b3a95c" />
<rect x="657.75" y="129.80" width="1.60" height="0.53" fill="#c7e2a1" />
<rect x="657.75" y="130.33" width="1.60" height="4.97" fill="#b3a95c" />
<rect x="659.94" y="125.00" width="1.60" height="2.13" fill="#eea4a4" />
<rect x="659.94" y="127.14" width="1.60" height="8.16" fill="#b3a95c" />
<rect x="662.12" y="128.73" width="1.60" height="5.33" fill="#eea4a4" />
<rect x="662.12" y="134.06" width="1.60" height="1.24" fill="#b3a95c" />
<rect x="664.31" y="129.80" width="1.60" height="4.80" fill="#c7e2a1" />
<rect x="664.31" y="134.60" width="1.60" height="0.70" fill="#b3a95c" />
<rect x="666.49" y="127.14" width="1.60" height="2.66" fill="#eea4a4" />
<rect x="666.49" y="129.80" width="1.60" height="5.50" fill="#b3a95c" />
<rect x="668.68" y="128.20" width="1.60" height="5.86" fill="#eea4a4" />
<rect x="668.68" y="134.06" width="1.60" height="1.24" fill="#b3a95c" />
<rect x="670.86" y="128.20" width="1.60" height="4.80" fill="#eea4a4" />
<rect x="670.86" y="133.00" width="1.60" height="2.30" fill="#b3a95c" />
<rect x="673.05" y="129.80" width="1.60" height="2.66" fill="#eea4a4" />
<rect x="673.05" y="132.46" width="1.60" height="2.84" fill="#b3a95c" />
<rect x="675.23" y="133.00" width="1.60" height="0.32" fill="#c7e2a1" />
<rect x="675.23" y="133.32" width="1.60" height="1.98" fill="#b3a95c" />
<rect x="677.42" y="127.14" width="1.60" height="1.07" fill="#c7e2a1" />
<rect x="677.42" y="128.20" width="1.60" height="7.10" fill="#b3a95c" />
<rect x="679.60" y="129.80" width="1.60" height="4.80" fill="#eea4a4" />
<rect x="679.60" y="134.60" width="1.60" height="0.70" fill="#b3a95c" />
<line x1="418.20" y1="26.20" x2="418.20" y2="135.75" stroke="#231f20" stroke-width="0.9" />
<line x1="417.75" y1="135.30" x2="681.00" y2="135.30" stroke="#231f20" stroke-width="0.9" />
<line x1="414.40" y1="135.30" x2="418.20" y2="135.30" stroke="#231f20" stroke-width="0.9" />
<text x="413.70" y="138.60" font-size="9.2" text-anchor="end" stroke="#231f20" stroke-width="0.25">0.00</text>
<line x1="414.40" y1="98.93" x2="418.20" y2="98.93" stroke="#231f20" stroke-width="0.9" />
<text x="413.70" y="102.23" font-size="9.2" text-anchor="end" stroke="#231f20" stroke-width="0.25">0.01</text>
<line x1="414.40" y1="62.56" x2="418.20" y2="62.56" stroke="#231f20" stroke-width="0.9" />
<text x="413.70" y="65.86" font-size="9.2" text-anchor="end" stroke="#231f20" stroke-width="0.25">0.02</text>
<line x1="414.40" y1="26.19" x2="418.20" y2="26.19" stroke="#231f20" stroke-width="0.9" />
<text x="413.70" y="29.49" font-size="9.2" text-anchor="end" stroke="#231f20" stroke-width="0.25">0.03</text>
<line x1="418.20" y1="135.30" x2="418.20" y2="139.30" stroke="#231f20" stroke-width="0.9" />
<text x="418.20" y="148.40" font-size="9.2" text-anchor="middle" stroke="#231f20" stroke-width="0.25">0</text>
<line x1="461.90" y1="135.30" x2="461.90" y2="139.30" stroke="#231f20" stroke-width="0.9" />
<text x="461.90" y="148.40" font-size="9.2" text-anchor="middle" stroke="#231f20" stroke-width="0.25">4</text>
<line x1="505.60" y1="135.30" x2="505.60" y2="139.30" stroke="#231f20" stroke-width="0.9" />
<text x="505.60" y="148.40" font-size="9.2" text-anchor="middle" stroke="#231f20" stroke-width="0.25">8</text>
<line x1="549.30" y1="135.30" x2="549.30" y2="139.30" stroke="#231f20" stroke-width="0.9" />
<text x="549.30" y="148.40" font-size="9.2" text-anchor="middle" stroke="#231f20" stroke-width="0.25">12</text>
<line x1="593.00" y1="135.30" x2="593.00" y2="139.30" stroke="#231f20" stroke-width="0.9" />
<text x="593.00" y="148.40" font-size="9.2" text-anchor="middle" stroke="#231f20" stroke-width="0.25">16</text>
<line x1="636.70" y1="135.30" x2="636.70" y2="139.30" stroke="#231f20" stroke-width="0.9" />
<text x="636.70" y="148.40" font-size="9.2" text-anchor="middle" stroke="#231f20" stroke-width="0.25">20</text>
<line x1="680.40" y1="135.30" x2="680.40" y2="139.30" stroke="#231f20" stroke-width="0.9" />
<text x="680.40" y="148.40" font-size="9.2" text-anchor="middle" stroke="#231f20" stroke-width="0.25">24</text>
<text x="550.70" y="163.00" font-size="9.3" text-anchor="middle" stroke="#231f20" stroke-width="0.25">Half-Life (hrs)</text>
<text x="389.00" y="80.75" font-size="9.2" text-anchor="middle" transform="rotate(-90 389.0 80.75)" stroke="#231f20" stroke-width="0.25">Fraction</text>
<text x="385.50" y="11.60" font-size="16" font-weight="bold" stroke="#231f20" stroke-width="0.25">c</text>
<text x="447.40" y="13.20" font-size="10.36" stroke="#231f20" stroke-width="0.25">mRNA Half-Life Distribution under normal conditon</text>
<rect x="615.40" y="31.90" width="1.60" height="4.70" fill="#8cc43c" />
<rect x="615.40" y="42.30" width="1.60" height="4.40" fill="#e8463c" />
<text x="621.80" y="36.60" font-size="8.9" stroke="#231f20" stroke-width="0.25">WT</text>
<text x="621.80" y="46.90" font-size="8.9" stroke="#231f20" stroke-width="0.25">K512R</text>
<rect x="426.14" y="349.12" width="1.60" height="0.79" fill="#eea4a4" />
<rect x="426.14" y="349.91" width="1.60" height="0.99" fill="#b3a95c" />
<rect x="428.32" y="348.22" width="1.60" height="1.69" fill="#eea4a4" />
<rect x="428.32" y="349.91" width="1.60" height="0.99" fill="#b3a95c" />
<rect x="430.51" y="346.19" width="1.60" height="0.34" fill="#c7e2a1" />
<rect x="430.51" y="346.53" width="1.60" height="4.37" fill="#b3a95c" />
<rect x="432.69" y="344.27" width="1.60" height="2.59" fill="#eea4a4" />
<rect x="432.69" y="346.87" width="1.60" height="4.03" fill="#b3a95c" />
<rect x="434.88" y="339.76" width="1.60" height="5.64" fill="#eea4a4" />
<rect x="434.88" y="345.40" width="1.60" height="5.50" fill="#b3a95c" />
<rect x="437.06" y="342.02" width="1.60" height="1.47" fill="#eea4a4" />
<rect x="437.06" y="343.48" width="1.60" height="7.42" fill="#b3a95c" />
<rect x="439.25" y="337.17" width="1.60" height="2.59" fill="#eea4a4" />
<rect x="439.25" y="339.76" width="1.60" height="11.14" fill="#b3a95c" />
<rect x="441.44" y="339.76" width="1.60" height="0.79" fill="#c7e2a1" />
<rect x="441.44" y="340.55" width="1.60" height="10.35" fill="#b3a95c" />
<rect x="443.62" y="336.95" width="1.60" height="0.56" fill="#eea4a4" />
<rect x="443.62" y="337.51" width="1.60" height="13.39" fill="#b3a95c" />
<rect x="445.81" y="334.69" width="1.60" height="0.23" fill="#c7e2a1" />
<rect x="445.81" y="334.92" width="1.60" height="15.98" fill="#b3a95c" />
<rect x="447.99" y="329.62" width="1.60" height="6.43" fill="#eea4a4" />
<rect x="447.99" y="336.04" width="1.60" height="14.86" fill="#b3a95c" />
<rect x="450.18" y="323.19" width="1.60" height="18.04" fill="#eea4a4" />
<rect x="450.18" y="341.23" width="1.60" height="9.67" fill="#b3a95c" />
<rect x="452.36" y="318.68" width="1.60" height="13.19" fill="#eea4a4" />
<rect x="452.36" y="331.87" width="1.60" height="19.03" fill="#b3a95c" />
<rect x="454.54" y="315.30" width="1.60" height="10.93" fill="#eea4a4" />
<rect x="454.54" y="326.24" width="1.60" height="24.66" fill="#b3a95c" />
<rect x="456.73" y="308.99" width="1.60" height="17.25" fill="#eea4a4" />
<rect x="456.73" y="326.24" width="1.60" height="24.66" fill="#b3a95c" />
<rect x="458.91" y="305.95" width="1.60" height="13.19" fill="#eea4a4" />
<rect x="458.91" y="319.13" width="1.60" height="31.77" fill="#b3a95c" />
<rect x="461.10" y="297.27" width="1.60" height="24.80" fill="#eea4a4" />
<rect x="461.10" y="322.07" width="1.60" height="28.83" fill="#b3a95c" />
<rect x="463.28" y="289.04" width="1.60" height="31.23" fill="#eea4a4" />
<rect x="463.28" y="320.26" width="1.60" height="30.64" fill="#b3a95c" />
<rect x="465.47" y="280.02" width="1.60" height="36.64" fill="#eea4a4" />
<rect x="465.47" y="316.65" width="1.60" height="34.25" fill="#b3a95c" />
<rect x="467.65" y="282.27" width="1.60" height="21.98" fill="#eea4a4" />
<rect x="467.65" y="304.25" width="1.60" height="46.65" fill="#b3a95c" />
<rect x="469.84" y="270.21" width="1.60" height="32.69" fill="#eea4a4" />
<rect x="469.84" y="302.90" width="1.60" height="48.00" fill="#b3a95c" />
<rect x="472.02" y="268.75" width="1.60" height="24.24" fill="#eea4a4" />
<rect x="472.02" y="292.98" width="1.60" height="57.92" fill="#b3a95c" />
<rect x="474.21" y="271.34" width="1.60" height="23.67" fill="#eea4a4" />
<rect x="474.21" y="295.01" width="1.60" height="55.89" fill="#b3a95c" />
<rect x="476.39" y="261.98" width="1.60" height="29.87" fill="#eea4a4" />
<rect x="476.39" y="291.85" width="1.60" height="59.05" fill="#b3a95c" />
<rect x="478.58" y="273.25" width="1.60" height="24.80" fill="#eea4a4" />
<rect x="478.58" y="298.05" width="1.60" height="52.85" fill="#b3a95c" />
<rect x="480.76" y="263.90" width="1.60" height="26.27" fill="#eea4a4" />
<rect x="480.76" y="290.16" width="1.60" height="60.74" fill="#b3a95c" />
<rect x="482.95" y="275.85" width="1.60" height="20.29" fill="#eea4a4" />
<rect x="482.95" y="296.14" width="1.60" height="54.76" fill="#b3a95c" />
<rect x="485.13" y="272.92" width="1.60" height="15.78" fill="#eea4a4" />
<rect x="485.13" y="288.70" width="1.60" height="62.20" fill="#b3a95c" />
<rect x="487.32" y="276.07" width="1.60" height="13.75" fill="#eea4a4" />
<rect x="487.32" y="289.83" width="1.60" height="61.07" fill="#b3a95c" />
<rect x="489.50" y="277.20" width="1.60" height="13.30" fill="#eea4a4" />
<rect x="489.50" y="290.50" width="1.60" height="60.40" fill="#b3a95c" />
<rect x="491.69" y="283.40" width="1.60" height="0.00" fill="#eea4a4" />
<rect x="491.69" y="283.40" width="1.60" height="67.50" fill="#b3a95c" />
<rect x="493.88" y="292.08" width="1.60" height="2.03" fill="#eea4a4" />
<rect x="493.88" y="294.11" width="1.60" height="56.79" fill="#b3a95c" />
<rect x="496.06" y="287.12" width="1.60" height="15.44" fill="#eea4a4" />
<rect x="496.06" y="302.56" width="1.60" height="48.34" fill="#b3a95c" />
<rect x="498.25" y="293.55" width="1.60" height="6.20" fill="#eea4a4" />
<rect x="498.25" y="299.75" width="1.60" height="51.15" fill="#b3a95c" />
<rect x="500.43" y="290.16" width="1.60" height="0.34" fill="#c7e2a1" />
<rect x="500.43" y="290.50" width="1.60" height="60.40" fill="#b3a95c" />
<rect x="502.62" y="296.14" width="1.60" height="1.35" fill="#c7e2a1" />
<rect x="502.62" y="297.49" width="1.60" height="53.41" fill="#b3a95c" />
<rect x="504.80" y="298.62" width="1.60" height="0.90" fill="#eea4a4" />
<rect x="504.80" y="299.52" width="1.60" height="51.38" fill="#b3a95c" />
<rect x="506.99" y="298.84" width="1.60" height="0.34" fill="#c7e2a1" />
<rect x="506.99" y="299.18" width="1.60" height="51.72" fill="#b3a95c" />
<rect x="509.17" y="297.27" width="1.60" height="1.35" fill="#c7e2a1" />
<rect x="509.17" y="298.62" width="1.60" height="52.28" fill="#b3a95c" />
<rect x="511.35" y="297.27" width="1.60" height="6.76" fill="#eea4a4" />
<rect x="511.35" y="304.03" width="1.60" height="46.87" fill="#b3a95c" />
<rect x="513.54" y="308.99" width="1.60" height="4.85" fill="#c7e2a1" />
<rect x="513.54" y="313.84" width="1.60" height="37.06" fill="#b3a95c" />
<rect x="515.73" y="311.58" width="1.60" height="0.34" fill="#c7e2a1" />
<rect x="515.73" y="311.92" width="1.60" height="38.98" fill="#b3a95c" />
<rect x="517.91" y="303.13" width="1.60" height="7.89" fill="#c7e2a1" />
<rect x="517.91" y="311.02" width="1.60" height="39.88" fill="#b3a95c" />
<rect x="520.10" y="308.20" width="1.60" height="9.02" fill="#c7e2a1" />
<rect x="520.10" y="317.22" width="1.60" height="33.68" fill="#b3a95c" />
<rect x="522.28" y="313.27" width="1.60" height="0.23" fill="#c7e2a1" />
<rect x="522.28" y="313.50" width="1.60" height="37.40" fill="#b3a95c" />
<rect x="524.47" y="314.17" width="1.60" height="5.86" fill="#c7e2a1" />
<rect x="524.47" y="320.04" width="1.60" height="30.86" fill="#b3a95c" />
<rect x="526.65" y="310.45" width="1.60" height="14.65" fill="#c7e2a1" />
<rect x="526.65" y="325.11" width="1.60" height="25.79" fill="#b3a95c" />
<rect x="528.84" y="318.91" width="1.60" height="5.07" fill="#c7e2a1" />
<rect x="528.84" y="323.98" width="1.60" height="26.92" fill="#b3a95c" />
<rect x="531.02" y="314.17" width="1.60" height="14.65" fill="#c7e2a1" />
<rect x="531.02" y="328.83" width="1.60" height="22.07" fill="#b3a95c" />
<rect x="533.21" y="323.19" width="1.60" height="1.92" fill="#c7e2a1" />
<rect x="533.21" y="325.11" width="1.60" height="25.79" fill="#b3a95c" />
<rect x="535.39" y="318.01" width="1.60" height="5.19" fill="#c7e2a1" />
<rect x="535.39" y="323.19" width="1.60" height="27.71" fill="#b3a95c" />
<rect x="537.58" y="320.26" width="1.60" height="9.92" fill="#c7e2a1" />
<rect x="537.58" y="330.18" width="1.60" height="20.72" fill="#b3a95c" />
<rect x="539.76" y="321.16" width="1.60" height="12.96" fill="#c7e2a1" />
<rect x="539.76" y="334.13" width="1.60" height="16.77" fill="#b3a95c" />
<rect x="541.95" y="323.98" width="1.60" height="9.02" fill="#c7e2a1" />
<rect x="541.95" y="333.00" width="1.60" height="17.90" fill="#b3a95c" />
<rect x="544.13" y="328.15" width="1.60" height="8.79" fill="#c7e2a1" />
<rect x="544.13" y="336.95" width="1.60" height="13.95" fill="#b3a95c" />
<rect x="546.32" y="328.49" width="1.60" height="1.13" fill="#c7e2a1" />
<rect x="546.32" y="329.62" width="1.60" height="21.28" fill="#b3a95c" />
<rect x="548.50" y="326.57" width="1.60" height="6.43" fill="#c7e2a1" />
<rect x="548.50" y="333.00" width="1.60" height="17.90" fill="#b3a95c" />
<rect x="550.69" y="331.08" width="1.60" height="7.89" fill="#c7e2a1" />
<rect x="550.69" y="338.97" width="1.60" height="11.93" fill="#b3a95c" />
<rect x="552.87" y="328.49" width="1.60" height="7.89" fill="#c7e2a1" />
<rect x="552.87" y="336.38" width="1.60" height="14.52" fill="#b3a95c" />
<rect x="555.06" y="331.19" width="1.60" height="8.99" fill="#c7e2a1" />
<rect x="555.06" y="340.18" width="1.60" height="10.72" fill="#b3a95c" />
<rect x="557.24" y="324.85" width="1.60" height="11.04" fill="#c7e2a1" />
<rect x="557.24" y="335.89" width="1.60" height="15.01" fill="#b3a95c" />
<rect x="559.43" y="329.96" width="1.60" height="4.90" fill="#c7e2a1" />
<rect x="559.43" y="334.87" width="1.60" height="16.03" fill="#b3a95c" />
<rect x="561.61" y="330.78" width="1.60" height="7.36" fill="#c7e2a1" />
<rect x="561.61" y="338.14" width="1.60" height="12.76" fill="#b3a95c" />
<rect x="563.80" y="332.52" width="1.60" height="3.37" fill="#c7e2a1" />
<rect x="563.80" y="335.89" width="1.60" height="15.01" fill="#b3a95c" />
<rect x="565.98" y="333.03" width="1.60" height="7.97" fill="#c7e2a1" />
<rect x="565.98" y="341.00" width="1.60" height="9.90" fill="#b3a95c" />
<rect x="568.17" y="329.45" width="1.60" height="10.73" fill="#c7e2a1" />
<rect x="568.17" y="340.18" width="1.60" height="10.72" fill="#b3a95c" />
<rect x="570.35" y="336.09" width="1.60" height="7.66" fill="#c7e2a1" />
<rect x="570.35" y="343.76" width="1.60" height="7.14" fill="#b3a95c" />
<rect x="572.54" y="334.05" width="1.60" height="6.95" fill="#c7e2a1" />
<rect x="572.54" y="341.00" width="1.60" height="9.90" fill="#b3a95c" />
<rect x="574.72" y="332.21" width="1.60" height="8.99" fill="#c7e2a1" />
<rect x="574.72" y="341.20" width="1.60" height="9.70" fill="#b3a95c" />
<rect x="576.91" y="334.87" width="1.60" height="7.87" fill="#c7e2a1" />
<rect x="576.91" y="342.74" width="1.60" height="8.16" fill="#b3a95c" />
<rect x="579.09" y="329.96" width="1.60" height="12.26" fill="#c7e2a1" />
<rect x="579.09" y="342.22" width="1.60" height="8.68" fill="#b3a95c" />
<rect x="581.28" y="339.67" width="1.60" height="3.07" fill="#c7e2a1" />
<rect x="581.28" y="342.74" width="1.60" height="8.16" fill="#b3a95c" />
<rect x="583.46" y="337.93" width="1.60" height="5.31" fill="#c7e2a1" />
<rect x="583.46" y="343.25" width="1.60" height="7.65" fill="#b3a95c" />
<rect x="585.64" y="334.25" width="1.60" height="11.85" fill="#c7e2a1" />
<rect x="585.64" y="346.11" width="1.60" height="4.79" fill="#b3a95c" />
<rect x="587.83" y="337.12" width="1.60" height="8.99" fill="#c7e2a1" />
<rect x="587.83" y="346.11" width="1.60" height="4.79" fill="#b3a95c" />
<rect x="590.02" y="337.12" width="1.60" height="7.66" fill="#c7e2a1" />
<rect x="590.02" y="344.78" width="1.60" height="6.12" fill="#b3a95c" />
<rect x="592.20" y="337.93" width="1.60" height="9.91" fill="#c7e2a1" />
<rect x="592.20" y="347.84" width="1.60" height="3.06" fill="#b3a95c" />
<rect x="594.38" y="337.12" width="1.60" height="9.20" fill="#c7e2a1" />
<rect x="594.38" y="346.31" width="1.60" height="4.59" fill="#b3a95c" />
<rect x="596.57" y="338.95" width="1.60" height="5.11" fill="#c7e2a1" />
<rect x="596.57" y="344.06" width="1.60" height="6.84" fill="#b3a95c" />
<rect x="598.76" y="341.00" width="1.60" height="5.31" fill="#c7e2a1" />
<rect x="598.76" y="346.31" width="1.60" height="4.59" fill="#b3a95c" />
<rect x="600.94" y="335.89" width="1.60" height="12.26" fill="#c7e2a1" />
<rect x="600.94" y="348.15" width="1.60" height="2.75" fill="#b3a95c" />
<rect x="603.12" y="339.67" width="1.60" height="6.44" fill="#c7e2a1" />
<rect x="603.12" y="346.11" width="1.60" height="4.79" fill="#b3a95c" />
<rect x="605.31" y="342.02" width="1.60" height="4.80" fill="#c7e2a1" />
<rect x="605.31" y="346.82" width="1.60" height="4.08" fill="#b3a95c" />
<rect x="607.50" y="342.02" width="1.60" height="4.80" fill="#c7e2a1" />
<rect x="607.50" y="346.82" width="1.60" height="4.08" fill="#b3a95c" />
<rect x="609.68" y="340.69" width="1.60" height="5.42" fill="#c7e2a1" />
<rect x="609.68" y="346.11" width="1.60" height="4.79" fill="#b3a95c" />
<rect x="611.87" y="341.00" width="1.60" height="6.85" fill="#c7e2a1" />
<rect x="611.87" y="347.84" width="1.60" height="3.06" fill="#b3a95c" />
<rect x="614.05" y="343.45" width="1.60" height="3.37" fill="#c7e2a1" />
<rect x="614.05" y="346.82" width="1.60" height="4.08" fill="#b3a95c" />
<rect x="616.24" y="344.06" width="1.60" height="3.78" fill="#c7e2a1" />
<rect x="616.24" y="347.84" width="1.60" height="3.06" fill="#b3a95c" />
<rect x="618.42" y="341.77" width="1.60" height="2.98" fill="#c7e2a1" />
<rect x="618.42" y="344.76" width="1.60" height="6.14" fill="#b3a95c" />
<rect x="620.61" y="344.97" width="1.60" height="1.92" fill="#eea4a4" />
<rect x="620.61" y="346.89" width="1.60" height="4.01" fill="#b3a95c" />
<rect x="622.79" y="341.35" width="1.60" height="5.54" fill="#c7e2a1" />
<rect x="622.79" y="346.89" width="1.60" height="4.01" fill="#b3a95c" />
<rect x="624.98" y="341.77" width="1.60" height="5.12" fill="#c7e2a1" />
<rect x="624.98" y="346.89" width="1.60" height="4.01" fill="#b3a95c" />
<rect x="627.16" y="342.63" width="1.60" height="4.26" fill="#c7e2a1" />
<rect x="627.16" y="346.89" width="1.60" height="4.01" fill="#b3a95c" />
<rect x="629.35" y="344.22" width="1.60" height="3.73" fill="#c7e2a1" />
<rect x="629.35" y="347.95" width="1.60" height="2.95" fill="#b3a95c" />
<rect x="631.53" y="343.16" width="1.60" height="3.73" fill="#c7e2a1" />
<rect x="631.53" y="346.89" width="1.60" height="4.01" fill="#b3a95c" />
<rect x="633.72" y="343.90" width="1.60" height="4.05" fill="#c7e2a1" />
<rect x="633.72" y="347.95" width="1.60" height="2.95" fill="#b3a95c" />
<rect x="635.90" y="339.64" width="1.60" height="8.31" fill="#c7e2a1" />
<rect x="635.90" y="347.95" width="1.60" height="2.95" fill="#b3a95c" />
<rect x="638.09" y="342.63" width="1.60" height="5.33" fill="#c7e2a1" />
<rect x="638.09" y="347.95" width="1.60" height="2.95" fill="#b3a95c" />
<rect x="640.27" y="345.82" width="1.60" height="2.13" fill="#c7e2a1" />
<rect x="640.27" y="347.95" width="1.60" height="2.95" fill="#b3a95c" />
<rect x="642.46" y="346.89" width="1.60" height="0.53" fill="#eea4a4" />
<rect x="642.46" y="347.42" width="1.60" height="3.48" fill="#b3a95c" />
<rect x="644.64" y="347.42" width="1.60" height="0.53" fill="#eea4a4" />
<rect x="644.64" y="347.95" width="1.60" height="2.95" fill="#b3a95c" />
<rect x="646.83" y="345.29" width="1.60" height="3.20" fill="#c7e2a1" />
<rect x="646.83" y="348.49" width="1.60" height="2.41" fill="#b3a95c" />
<rect x="649.01" y="345.82" width="1.60" height="2.13" fill="#c7e2a1" />
<rect x="649.01" y="347.95" width="1.60" height="2.95" fill="#b3a95c" />
<rect x="651.20" y="343.16" width="1.60" height="5.33" fill="#c7e2a1" />
<rect x="651.20" y="348.49" width="1.60" height="2.41" fill="#b3a95c" />
<rect x="653.38" y="346.36" width="1.60" height="2.13" fill="#c7e2a1" />
<rect x="653.38" y="348.49" width="1.60" height="2.41" fill="#b3a95c" />
<rect x="655.57" y="346.89" width="1.60" height="1.60" fill="#c7e2a1" />
<rect x="655.57" y="348.49" width="1.60" height="2.41" fill="#b3a95c" />
<rect x="657.75" y="342.09" width="1.60" height="5.33" fill="#c7e2a1" />
<rect x="657.75" y="347.42" width="1.60" height="3.48" fill="#b3a95c" />
<rect x="659.94" y="345.82" width="1.60" height="2.66" fill="#c7e2a1" />
<rect x="659.94" y="348.49" width="1.60" height="2.41" fill="#b3a95c" />
<rect x="662.12" y="343.90" width="1.60" height="4.58" fill="#c7e2a1" />
<rect x="662.12" y="348.49" width="1.60" height="2.41" fill="#b3a95c" />
<rect x="664.31" y="345.82" width="1.60" height="2.66" fill="#c7e2a1" />
<rect x="664.31" y="348.49" width="1.60" height="2.41" fill="#b3a95c" />
<rect x="666.49" y="346.89" width="1.60" height="1.60" fill="#c7e2a1" />
<rect x="666.49" y="348.49" width="1.60" height="2.41" fill="#b3a95c" />
<rect x="668.68" y="343.48" width="1.60" height="5.01" fill="#c7e2a1" />
<rect x="668.68" y="348.49" width="1.60" height="2.41" fill="#b3a95c" />
<rect x="670.86" y="346.36" width="1.60" height="2.13" fill="#c7e2a1" />
<rect x="670.86" y="348.49" width="1.60" height="2.41" fill="#b3a95c" />
<rect x="673.05" y="346.89" width="1.60" height="1.60" fill="#c7e2a1" />
<rect x="673.05" y="348.49" width="1.60" height="2.41" fill="#b3a95c" />
<rect x="675.23" y="345.82" width="1.60" height="2.13" fill="#c7e2a1" />
<rect x="675.23" y="347.95" width="1.60" height="2.95" fill="#b3a95c" />
<rect x="677.42" y="346.04" width="1.60" height="2.45" fill="#c7e2a1" />
<rect x="677.42" y="348.49" width="1.60" height="2.41" fill="#b3a95c" />
<rect x="679.60" y="346.89" width="1.60" height="1.60" fill="#c7e2a1" />
<rect x="679.60" y="348.49" width="1.60" height="2.41" fill="#b3a95c" />
<line x1="418.20" y1="243.70" x2="418.20" y2="351.35" stroke="#231f20" stroke-width="0.9" />
<line x1="417.75" y1="350.90" x2="681.00" y2="350.90" stroke="#231f20" stroke-width="0.9" />
<line x1="414.40" y1="350.90" x2="418.20" y2="350.90" stroke="#231f20" stroke-width="0.9" />
<text x="413.70" y="354.20" font-size="9.2" text-anchor="end" stroke="#231f20" stroke-width="0.25">0.00</text>
<line x1="414.40" y1="324.10" x2="418.20" y2="324.10" stroke="#231f20" stroke-width="0.9" />
<text x="413.70" y="327.40" font-size="9.2" text-anchor="end" stroke="#231f20" stroke-width="0.25">0.01</text>
<line x1="414.40" y1="297.30" x2="418.20" y2="297.30" stroke="#231f20" stroke-width="0.9" />
<text x="413.70" y="300.60" font-size="9.2" text-anchor="end" stroke="#231f20" stroke-width="0.25">0.02</text>
<line x1="414.40" y1="270.50" x2="418.20" y2="270.50" stroke="#231f20" stroke-width="0.9" />
<text x="413.70" y="273.80" font-size="9.2" text-anchor="end" stroke="#231f20" stroke-width="0.25">0.03</text>
<line x1="414.40" y1="243.70" x2="418.20" y2="243.70" stroke="#231f20" stroke-width="0.9" />
<text x="413.70" y="247.00" font-size="9.2" text-anchor="end" stroke="#231f20" stroke-width="0.25">0.04</text>
<line x1="418.20" y1="350.90" x2="418.20" y2="354.90" stroke="#231f20" stroke-width="0.9" />
<text x="418.20" y="363.50" font-size="9.2" text-anchor="middle" stroke="#231f20" stroke-width="0.25">0</text>
<line x1="461.90" y1="350.90" x2="461.90" y2="354.90" stroke="#231f20" stroke-width="0.9" />
<text x="461.90" y="363.50" font-size="9.2" text-anchor="middle" stroke="#231f20" stroke-width="0.25">4</text>
<line x1="505.60" y1="350.90" x2="505.60" y2="354.90" stroke="#231f20" stroke-width="0.9" />
<text x="505.60" y="363.50" font-size="9.2" text-anchor="middle" stroke="#231f20" stroke-width="0.25">8</text>
<line x1="549.30" y1="350.90" x2="549.30" y2="354.90" stroke="#231f20" stroke-width="0.9" />
<text x="549.30" y="363.50" font-size="9.2" text-anchor="middle" stroke="#231f20" stroke-width="0.25">12</text>
<line x1="593.00" y1="350.90" x2="593.00" y2="354.90" stroke="#231f20" stroke-width="0.9" />
<text x="593.00" y="363.50" font-size="9.2" text-anchor="middle" stroke="#231f20" stroke-width="0.25">16</text>
<line x1="636.70" y1="350.90" x2="636.70" y2="354.90" stroke="#231f20" stroke-width="0.9" />
<text x="636.70" y="363.50" font-size="9.2" text-anchor="middle" stroke="#231f20" stroke-width="0.25">20</text>
<line x1="680.40" y1="350.90" x2="680.40" y2="354.90" stroke="#231f20" stroke-width="0.9" />
<text x="680.40" y="363.50" font-size="9.2" text-anchor="middle" stroke="#231f20" stroke-width="0.25">24</text>
<text x="550.70" y="378.00" font-size="9.3" text-anchor="middle" stroke="#231f20" stroke-width="0.25">Half-Life (hrs)</text>
<text x="389.00" y="297.30" font-size="9.2" text-anchor="middle" transform="rotate(-90 389.0 297.30)" stroke="#231f20" stroke-width="0.25">Fraction</text>
<text x="385.50" y="229.60" font-size="16" font-weight="bold" stroke="#231f20" stroke-width="0.25">e</text>
<text x="449.30" y="228.70" font-size="10.45" stroke="#231f20" stroke-width="0.25">mRNA Half-Life Distribution under stress conditon</text>
<rect x="614.70" y="246.00" width="1.60" height="6.40" fill="#8cc43c" />
<rect x="614.70" y="261.50" width="1.60" height="6.50" fill="#e8463c" />
<text x="621.10" y="252.40" font-size="8.9" stroke="#231f20" stroke-width="0.25">WT</text>
<text x="621.10" y="268.00" font-size="8.9" stroke="#231f20" stroke-width="0.25">K512R</text>
<text x="-0.40" y="449.20" font-size="16" font-weight="bold" stroke="#231f20" stroke-width="0.25">f</text>
<text x="195.00" y="441.80" font-size="10.7" stroke="#231f20" stroke-width="0.25">KEGG_Pathway</text>
<rect x="195.90" y="446.60" width="112.80" height="177.70" fill="#ffffff" />
<line x1="199.40" y1="446.60" x2="199.40" y2="624.30" stroke="#ececec" stroke-width="0.7" />
<line x1="229.80" y1="446.60" x2="229.80" y2="624.30" stroke="#ececec" stroke-width="0.7" />
<line x1="260.20" y1="446.60" x2="260.20" y2="624.30" stroke="#ececec" stroke-width="0.7" />
<line x1="290.60" y1="446.60" x2="290.60" y2="624.30" stroke="#ececec" stroke-width="0.7" />
<line x1="214.60" y1="446.60" x2="214.60" y2="624.30" stroke="#e6e6e6" stroke-width="1.0" />
<line x1="245.00" y1="446.60" x2="245.00" y2="624.30" stroke="#e6e6e6" stroke-width="1.0" />
<line x1="275.40" y1="446.60" x2="275.40" y2="624.30" stroke="#e6e6e6" stroke-width="1.0" />
<line x1="305.80" y1="446.60" x2="305.80" y2="624.30" stroke="#e6e6e6" stroke-width="1.0" />
<line x1="195.90" y1="454.40" x2="308.70" y2="454.40" stroke="#e6e6e6" stroke-width="1.0" />
<line x1="195.90" y1="467.90" x2="308.70" y2="467.90" stroke="#e6e6e6" stroke-width="1.0" />
<line x1="195.90" y1="481.40" x2="308.70" y2="481.40" stroke="#e6e6e6" stroke-width="1.0" />
<line x1="195.90" y1="494.90" x2="308.70" y2="494.90" stroke="#e6e6e6" stroke-width="1.0" />
<line x1="195.90" y1="508.40" x2="308.70" y2="508.40" stroke="#e6e6e6" stroke-width="1.0" />
<line x1="195.90" y1="521.90" x2="308.70" y2="521.90" stroke="#e6e6e6" stroke-width="1.0" />
<line x1="195.90" y1="535.40" x2="308.70" y2="535.40" stroke="#e6e6e6" stroke-width="1.0" />
<line x1="195.90" y1="548.90" x2="308.70" y2="548.90" stroke="#e6e6e6" stroke-width="1.0" />
<line x1="195.90" y1="562.40" x2="308.70" y2="562.40" stroke="#e6e6e6" stroke-width="1.0" />
<line x1="195.90" y1="575.90" x2="308.70" y2="575.90" stroke="#e6e6e6" stroke-width="1.0" />
<line x1="195.90" y1="589.40" x2="308.70" y2="589.40" stroke="#e6e6e6" stroke-width="1.0" />
<line x1="195.90" y1="602.90" x2="308.70" y2="602.90" stroke="#e6e6e6" stroke-width="1.0" />
<line x1="195.90" y1="616.40" x2="308.70" y2="616.40" stroke="#e6e6e6" stroke-width="1.0" />
<circle cx="303.60" cy="454.40" r="3.50" fill="#9b3fb5" stroke="none" stroke-width="0.5" />
<line x1="193.60" y1="454.40" x2="195.90" y2="454.40" stroke="#333333" stroke-width="0.8" />
<text x="192.00" y="456.10" font-size="9.3" font-weight="bold" font-style="italic" text-anchor="end" stroke="#231f20" stroke-width="0.25">Pathways in cancer</text>
<circle cx="258.60" cy="467.90" r="3.00" fill="#d42a5c" stroke="none" stroke-width="0.5" />
<line x1="193.60" y1="467.90" x2="195.90" y2="467.90" stroke="#333333" stroke-width="0.8" />
<text x="192.10" y="469.80" font-size="9.4" text-anchor="end" stroke="#231f20" stroke-width="0.25">Regulation of actin cytoskeleton</text>
<circle cx="229.70" cy="481.40" r="2.45" fill="#9a44c0" stroke="none" stroke-width="0.5" />
<line x1="193.60" y1="481.40" x2="195.90" y2="481.40" stroke="#333333" stroke-width="0.8" />
<text x="192.10" y="483.00" font-size="9.4" text-anchor="end" stroke="#231f20" stroke-width="0.25">Wnt signaling pathway</text>
<circle cx="229.70" cy="494.90" r="2.45" fill="#5a4fb0" stroke="none" stroke-width="0.5" />
<line x1="193.60" y1="494.90" x2="195.90" y2="494.90" stroke="#333333" stroke-width="0.8" />
<text x="192.10" y="496.80" font-size="9.4" text-anchor="end" stroke="#231f20" stroke-width="0.25">Calcium signaling pathway</text>
<circle cx="220.10" cy="508.40" r="2.10" fill="#e03a1e" stroke="none" stroke-width="0.5" />
<line x1="193.60" y1="508.40" x2="195.90" y2="508.40" stroke="#333333" stroke-width="0.8" />
<text x="192.00" y="510.30" font-size="10.65" font-weight="bold" font-style="italic" text-anchor="end" fill="#d42a20" stroke="#d42a20" stroke-width="0.25">Mitophagy − animal</text>
<circle cx="220.10" cy="521.90" r="2.10" fill="#c8307a" stroke="none" stroke-width="0.5" />
<line x1="193.60" y1="521.90" x2="195.90" y2="521.90" stroke="#333333" stroke-width="0.8" />
<text x="192.10" y="524.10" font-size="9.4" text-anchor="end" stroke="#231f20" stroke-width="0.25">Melanogenesis</text>
<circle cx="216.50" cy="535.40" r="2.10" fill="#7a44b8" stroke="none" stroke-width="0.5" />
<line x1="193.60" y1="535.40" x2="195.90" y2="535.40" stroke="#333333" stroke-width="0.8" />
<text x="192.10" y="536.20" font-size="9.4" text-anchor="end" stroke="#231f20" stroke-width="0.25">Neuroactive ligand−receptor interaction</text>
<circle cx="216.50" cy="548.90" r="2.10" fill="#9a3cc0" stroke="none" stroke-width="0.5" />
<line x1="193.60" y1="548.90" x2="195.90" y2="548.90" stroke="#333333" stroke-width="0.8" />
<text x="192.10" y="549.90" font-size="9.4" text-anchor="end" stroke="#231f20" stroke-width="0.25">Cytokine−cytokine receptor interaction</text>
<circle cx="213.40" cy="562.40" r="2.00" fill="#5a50b4" stroke="none" stroke-width="0.5" />
<line x1="193.60" y1="562.40" x2="195.90" y2="562.40" stroke="#333333" stroke-width="0.8" />
<text x="192.10" y="561.80" font-size="9.35" text-anchor="end" stroke="#231f20" stroke-width="0.25">Inflammatory mediator regulation</text>
<text x="192.10" y="570.90" font-size="9.35" text-anchor="end" stroke="#231f20" stroke-width="0.25">of TRP channels</text>
<circle cx="213.40" cy="575.90" r="2.00" fill="#8040b8" stroke="none" stroke-width="0.5" />
<line x1="193.60" y1="575.90" x2="195.90" y2="575.90" stroke="#333333" stroke-width="0.8" />
<text x="192.10" y="580.40" font-size="9.4" text-anchor="end" stroke="#231f20" stroke-width="0.25">Gap junction</text>
<circle cx="206.90" cy="589.40" r="1.70" fill="#8a40b8" stroke="none" stroke-width="0.5" />
<line x1="193.60" y1="589.40" x2="195.90" y2="589.40" stroke="#333333" stroke-width="0.8" />
<text x="192.10" y="593.90" font-size="9.4" text-anchor="end" stroke="#231f20" stroke-width="0.25">Basal cell carcinoma</text>
<circle cx="200.60" cy="602.90" r="1.10" fill="#b030b0" stroke="none" stroke-width="0.5" />
<line x1="193.60" y1="602.90" x2="195.90" y2="602.90" stroke="#333333" stroke-width="0.8" />
<text x="192.10" y="607.80" font-size="9.4" text-anchor="end" stroke="#231f20" stroke-width="0.25">Taste transduction</text>
<circle cx="200.60" cy="616.40" r="1.10" fill="#d03ab0" stroke="none" stroke-width="0.5" />
<line x1="193.60" y1="616.40" x2="195.90" y2="616.40" stroke="#333333" stroke-width="0.8" />
<text x="192.10" y="620.60" font-size="9.4" text-anchor="end" stroke="#231f20" stroke-width="0.25">Ferroptosis</text>
<path d="M195.9,446.6 L308.7,446.6 L308.7,624.3 L195.9,624.3 Z" fill="none" stroke="#1a1a1a" stroke-width="0.9" />
<line x1="214.60" y1="624.30" x2="214.60" y2="626.10" stroke="#333333" stroke-width="0.6" />
<text x="214.60" y="631.60" font-size="5.5" text-anchor="middle" fill="#4d4d4d" stroke="#4d4d4d" stroke-width="0.25">0.025</text>
<line x1="245.00" y1="624.30" x2="245.00" y2="626.10" stroke="#333333" stroke-width="0.6" />
<text x="245.00" y="631.60" font-size="5.5" text-anchor="middle" fill="#4d4d4d" stroke="#4d4d4d" stroke-width="0.25">0.050</text>
<line x1="275.40" y1="624.30" x2="275.40" y2="626.10" stroke="#333333" stroke-width="0.6" />
<text x="275.40" y="631.60" font-size="5.5" text-anchor="middle" fill="#4d4d4d" stroke="#4d4d4d" stroke-width="0.25">0.075</text>
<line x1="305.80" y1="624.30" x2="305.80" y2="626.10" stroke="#333333" stroke-width="0.6" />
<text x="305.80" y="631.60" font-size="5.5" text-anchor="middle" fill="#4d4d4d" stroke="#4d4d4d" stroke-width="0.25">0.100</text>
<text x="316.80" y="493.90" font-size="5.6" stroke="#231f20" stroke-width="0.25">-log10(pvalue)</text>
<rect x="316.70" y="496.30" width="8.90" height="42.30" fill="url(#cbar)" />
<line x1="316.70" y1="499.50" x2="318.40" y2="499.50" stroke="#ffffff" stroke-width="0.5" />
<line x1="323.90" y1="499.50" x2="325.60" y2="499.50" stroke="#ffffff" stroke-width="0.5" />
<text x="327.80" y="501.20" font-size="4.6" stroke="#231f20" stroke-width="0.25">2.50</text>
<line x1="316.70" y1="507.80" x2="318.40" y2="507.80" stroke="#ffffff" stroke-width="0.5" />
<line x1="323.90" y1="507.80" x2="325.60" y2="507.80" stroke="#ffffff" stroke-width="0.5" />
<text x="327.80" y="509.50" font-size="4.6" stroke="#231f20" stroke-width="0.25">2.25</text>
<line x1="316.70" y1="516.20" x2="318.40" y2="516.20" stroke="#ffffff" stroke-width="0.5" />
<line x1="323.90" y1="516.20" x2="325.60" y2="516.20" stroke="#ffffff" stroke-width="0.5" />
<text x="327.80" y="517.90" font-size="4.6" stroke="#231f20" stroke-width="0.25">2.00</text>
<line x1="316.70" y1="524.40" x2="318.40" y2="524.40" stroke="#ffffff" stroke-width="0.5" />
<line x1="323.90" y1="524.40" x2="325.60" y2="524.40" stroke="#ffffff" stroke-width="0.5" />
<text x="327.80" y="526.10" font-size="4.6" stroke="#231f20" stroke-width="0.25">1.75</text>
<line x1="316.70" y1="532.70" x2="318.40" y2="532.70" stroke="#ffffff" stroke-width="0.5" />
<line x1="323.90" y1="532.70" x2="325.60" y2="532.70" stroke="#ffffff" stroke-width="0.5" />
<text x="327.80" y="534.40" font-size="4.6" stroke="#231f20" stroke-width="0.25">1.50</text>
<text x="316.90" y="553.00" font-size="5.4" stroke="#231f20" stroke-width="0.25">count</text>
<circle cx="321.10" cy="560.20" r="2.05" fill="#111111" stroke="none" stroke-width="0.5" />
<text x="327.80" y="561.90" font-size="4.6" stroke="#231f20" stroke-width="0.25">10</text>
<circle cx="321.10" cy="568.70" r="2.80" fill="#111111" stroke="none" stroke-width="0.5" />
<text x="327.80" y="570.40" font-size="4.6" stroke="#231f20" stroke-width="0.25">20</text>
<circle cx="321.10" cy="576.90" r="3.40" fill="#111111" stroke="none" stroke-width="0.5" />
<text x="327.80" y="578.60" font-size="4.6" stroke="#231f20" stroke-width="0.25">30</text>
<text x="373.00" y="449.00" font-size="16" font-weight="bold" stroke="#231f20" stroke-width="0.25">g</text>
<rect x="392.2" y="459.9" width="277.5" height="134.7" rx="19" ry="19" fill="#f7f8f4"/>
<text x="410.00" y="486.20" font-size="17.3" font-weight="bold" fill="#0a0a0a" stroke="#0a0a0a" stroke-width="0.25">Mitophagy:</text>
<text x="409.60" y="514.90" font-size="13.35" font-style="italic" stroke="#231f20" stroke-width="0.25">BECN1, BNIP3L, RRAS, FUNDC1,</text>
<text x="409.60" y="542.40" font-size="13.4" font-style="italic" stroke="#231f20" stroke-width="0.25">CSNK2A2, CSNK2B, MITF, USP30,</text>
<text x="409.60" y="568.50" font-size="13.4" font-style="italic" stroke="#231f20" stroke-width="0.25">FOXO3, HRAS, TP53</text>
<line x1="408.50" y1="521.00" x2="455.20" y2="521.00" stroke="#231f20" stroke-width="1.4" />
<line x1="461.80" y1="521.00" x2="508.50" y2="521.00" stroke="#231f20" stroke-width="1.4" />
<line x1="560.20" y1="521.00" x2="617.60" y2="521.00" stroke="#231f20" stroke-width="1.4" />
<text x="139.60" y="665.70" font-size="10.7" text-anchor="middle" stroke="#231f20" stroke-width="0.25"><tspan font-style="italic">FUNDC1</tspan> mRNA stability</text>
<text x="139.60" y="678.60" font-size="10.7" text-anchor="middle" stroke="#231f20" stroke-width="0.25">under normal condition</text>
<text x="-0.30" y="669.50" font-size="16" font-weight="bold" stroke="#231f20" stroke-width="0.25">h</text>
<line x1="62.30" y1="687.30" x2="62.30" y2="809.60" stroke="#231f20" stroke-width="1.3" />
<line x1="61.65" y1="809.00" x2="216.90" y2="809.00" stroke="#231f20" stroke-width="1.3" />
<line x1="57.70" y1="695.50" x2="62.30" y2="695.50" stroke="#231f20" stroke-width="1.1" />
<text x="58.40" y="698.80" font-size="9.3" text-anchor="end" stroke="#231f20" stroke-width="0.25">1.00</text>
<line x1="57.70" y1="752.25" x2="62.30" y2="752.25" stroke="#231f20" stroke-width="1.1" />
<text x="58.40" y="755.55" font-size="9.3" text-anchor="end" stroke="#231f20" stroke-width="0.25">0.50</text>
<line x1="57.70" y1="809.00" x2="62.30" y2="809.00" stroke="#231f20" stroke-width="1.1" />
<text x="58.40" y="812.30" font-size="9.3" text-anchor="end" stroke="#231f20" stroke-width="0.25">0.25</text>
<line x1="62.30" y1="809.00" x2="62.30" y2="813.00" stroke="#231f20" stroke-width="1.1" />
<text x="62.30" y="819.40" font-size="9.6" text-anchor="middle" stroke="#231f20" stroke-width="0.25">0</text>
<line x1="138.50" y1="809.00" x2="138.50" y2="813.00" stroke="#231f20" stroke-width="1.1" />
<text x="138.50" y="819.40" font-size="9.6" text-anchor="middle" stroke="#231f20" stroke-width="0.25">3</text>
<line x1="214.70" y1="809.00" x2="214.70" y2="813.00" stroke="#231f20" stroke-width="1.1" />
<text x="214.70" y="819.40" font-size="9.6" text-anchor="middle" stroke="#231f20" stroke-width="0.25">6</text>
<text x="138.40" y="832.50" font-size="10.5" text-anchor="middle" stroke="#231f20" stroke-width="0.25">Time (h)</text>
<text x="33.30" y="747.00" font-size="9.35" text-anchor="middle" transform="rotate(-90 33.30 747.00)" stroke="#231f20" stroke-width="0.25">mRNA remaining</text>
<line x1="62.30" y1="695.50" x2="214.70" y2="752.10" stroke="#231f20" stroke-width="1.45" stroke-dasharray="4.2 1.8"/>
<line x1="62.30" y1="695.50" x2="214.70" y2="767.90" stroke="#d8352a" stroke-width="1.45" stroke-dasharray="4.2 1.8"/>
<path d="M62.30,693.20 L64.60,695.50 L62.30,697.80 L60.00,695.50 Z" fill="#d8352a" stroke="none" stroke-width="0.8" />
<line x1="138.50" y1="731.20" x2="138.50" y2="736.60" stroke="#d8352a" stroke-width="0.8" />
<line x1="136.50" y1="731.20" x2="140.50" y2="731.20" stroke="#d8352a" stroke-width="0.8" />
<line x1="136.50" y1="736.60" x2="140.50" y2="736.60" stroke="#d8352a" stroke-width="0.8" />
<path d="M138.50,731.60 L140.80,733.90 L138.50,736.20 L136.20,733.90 Z" fill="#d8352a" stroke="none" stroke-width="0.8" />
<path d="M214.70,764.50 L217.00,766.80 L214.70,769.10 L212.40,766.80 Z" fill="#d8352a" stroke="none" stroke-width="0.8" />
<rect x="60.10" y="693.30" width="4.40" height="4.40" fill="#231f20" />
<rect x="136.50" y="739.00" width="4.00" height="4.00" fill="#231f20" />
<rect x="212.70" y="736.10" width="4.00" height="4.00" fill="#231f20" />
<text x="69.40" y="723.80" font-size="9.6" fill="#231f20" stroke="#231f20" stroke-width="0.25">R<tspan font-size="5.6" dy="-3.6">2</tspan><tspan dy="3.6">=0.77</tspan></text>
<text x="140.00" y="758.40" font-size="9.6" fill="#d8352a" stroke="#d8352a" stroke-width="0.25">R<tspan font-size="5.6" dy="-3.6">2</tspan><tspan dy="3.6">=0.99</tspan></text>
<rect x="69.10" y="781.00" width="3.80" height="3.80" fill="#231f20" />
<path d="M71.50,795.30 L73.70,797.50 L71.50,799.70 L69.30,797.50 Z" fill="#d8352a" stroke="none" stroke-width="0.8" />
<text x="75.60" y="785.70" font-size="9.4" stroke="#231f20" stroke-width="0.25">PABPC1-WT, t<tspan font-size="5.2" dy="3.3">1/2</tspan><tspan dy="-3.3">=6.0 h</tspan></text>
<text x="75.60" y="800.90" font-size="9.4" stroke="#231f20" stroke-width="0.25">PABPC1-K512R, t<tspan font-size="5.2" dy="3.3">1/2</tspan><tspan dy="-3.3">=4.6 h</tspan></text>
<line x1="189.60" y1="781.00" x2="189.60" y2="797.60" stroke="#777777" stroke-width="0.9" />
<text x="194.30" y="792.30" font-size="8.0" stroke="#231f20" stroke-width="0.25">p=0.0746</text>
<text x="139.60" y="855.00" font-size="10.7" text-anchor="middle" stroke="#231f20" stroke-width="0.25"><tspan font-style="italic">FUNDC1</tspan> mRNA stability</text>
<text x="139.60" y="868.40" font-size="10.7" text-anchor="middle" stroke="#231f20" stroke-width="0.25">under stress condition</text>
<line x1="63.10" y1="871.90" x2="63.10" y2="995.10" stroke="#231f20" stroke-width="1.3" />
<line x1="62.45" y1="994.50" x2="218.70" y2="994.50" stroke="#231f20" stroke-width="1.3" />
<line x1="58.50" y1="880.30" x2="63.10" y2="880.30" stroke="#231f20" stroke-width="1.1" />
<text x="58.10" y="883.60" font-size="9.3" text-anchor="end" stroke="#231f20" stroke-width="0.25">1.00</text>
<line x1="58.50" y1="937.40" x2="63.10" y2="937.40" stroke="#231f20" stroke-width="1.1" />
<text x="58.10" y="940.70" font-size="9.3" text-anchor="end" stroke="#231f20" stroke-width="0.25">0.50</text>
<line x1="58.50" y1="994.50" x2="63.10" y2="994.50" stroke="#231f20" stroke-width="1.1" />
<text x="58.10" y="997.80" font-size="9.3" text-anchor="end" stroke="#231f20" stroke-width="0.25">0.25</text>
<line x1="63.10" y1="994.50" x2="63.10" y2="998.50" stroke="#231f20" stroke-width="1.1" />
<text x="63.10" y="1005.00" font-size="9.6" text-anchor="middle" stroke="#231f20" stroke-width="0.25">0</text>
<line x1="139.80" y1="994.50" x2="139.80" y2="998.50" stroke="#231f20" stroke-width="1.1" />
<text x="139.80" y="1005.00" font-size="9.6" text-anchor="middle" stroke="#231f20" stroke-width="0.25">3</text>
<line x1="216.50" y1="994.50" x2="216.50" y2="998.50" stroke="#231f20" stroke-width="1.1" />
<text x="216.50" y="1005.00" font-size="9.6" text-anchor="middle" stroke="#231f20" stroke-width="0.25">6</text>
<text x="139.50" y="1018.00" font-size="10.5" text-anchor="middle" stroke="#231f20" stroke-width="0.25">Time (h)</text>
<text x="35.20" y="935.00" font-size="9.35" text-anchor="middle" transform="rotate(-90 35.20 935.00)" stroke="#231f20" stroke-width="0.25">mRNA remaining</text>
<line x1="63.10" y1="880.30" x2="216.50" y2="883.80" stroke="#231f20" stroke-width="1.45" stroke-dasharray="4.2 1.8"/>
<line x1="63.10" y1="880.30" x2="216.50" y2="943.70" stroke="#d8352a" stroke-width="1.45" stroke-dasharray="4.2 1.8"/>
<path d="M63.10,878.00 L65.40,880.30 L63.10,882.60 L60.80,880.30 Z" fill="#d8352a" stroke="none" stroke-width="0.8" />
<line x1="139.80" y1="907.60" x2="139.80" y2="916.40" stroke="#d8352a" stroke-width="0.8" />
<line x1="137.80" y1="907.60" x2="141.80" y2="907.60" stroke="#d8352a" stroke-width="0.8" />
<line x1="137.80" y1="916.40" x2="141.80" y2="916.40" stroke="#d8352a" stroke-width="0.8" />
<path d="M139.80,909.90 L142.10,912.20 L139.80,914.50 L137.50,912.20 Z" fill="#d8352a" stroke="none" stroke-width="0.8" />
<path d="M216.50,941.40 L218.80,943.70 L216.50,946.00 L214.20,943.70 Z" fill="#d8352a" stroke="none" stroke-width="0.8" />
<rect x="60.90" y="878.10" width="4.40" height="4.40" fill="#231f20" />
<rect x="137.80" y="897.90" width="4.00" height="4.00" fill="#231f20" />
<line x1="216.50" y1="873.50" x2="216.50" y2="879.50" stroke="#231f20" stroke-width="0.8" />
<line x1="214.50" y1="873.50" x2="218.50" y2="873.50" stroke="#231f20" stroke-width="0.8" />
<line x1="214.50" y1="879.50" x2="218.50" y2="879.50" stroke="#231f20" stroke-width="0.8" />
<rect x="214.50" y="873.40" width="4.00" height="4.00" fill="#231f20" />
<text x="172.20" y="894.30" font-size="9.6" fill="#231f20" stroke="#231f20" stroke-width="0.25">R<tspan font-size="5.6" dy="-3.6">2</tspan><tspan dy="3.6">=-0.14</tspan></text>
<text x="179.20" y="925.10" font-size="9.6" fill="#d8352a" stroke="#d8352a" stroke-width="0.25">R<tspan font-size="5.6" dy="-3.6">2</tspan><tspan dy="3.6">=0.99</tspan></text>
<rect x="68.90" y="969.10" width="3.80" height="3.80" fill="#231f20" />
<path d="M71.30,982.60 L73.50,984.80 L71.30,987.00 L69.10,984.80 Z" fill="#d8352a" stroke="none" stroke-width="0.8" />
<text x="75.60" y="973.80" font-size="9.4" stroke="#231f20" stroke-width="0.25">PABPC1-WT, t<tspan font-size="5.2" dy="3.3">1/2</tspan><tspan dy="-3.3">=84.2 h</tspan></text>
<text x="75.60" y="988.20" font-size="9.4" stroke="#231f20" stroke-width="0.25">PABPC1-K512R, t<tspan font-size="5.2" dy="3.3">1/2</tspan><tspan dy="-3.3">=5.4 h</tspan></text>
<line x1="190.30" y1="967.20" x2="190.30" y2="984.70" stroke="#777777" stroke-width="0.9" />
<text x="193.60" y="978.40" font-size="8.0" stroke="#231f20" stroke-width="0.25">p&lt;0.0001</text>
<text x="354.70" y="665.70" font-size="10.7" text-anchor="middle" stroke="#231f20" stroke-width="0.25"><tspan font-style="italic">BNIP3L</tspan> mRNA stability</text>
<text x="354.70" y="678.40" font-size="10.7" text-anchor="middle" stroke="#231f20" stroke-width="0.25">under normal condition</text>
<text x="238.90" y="670.20" font-size="16" font-weight="bold" stroke="#231f20" stroke-width="0.25">i</text>
<line x1="283.20" y1="684.60" x2="283.20" y2="808.70" stroke="#231f20" stroke-width="1.3" />
<line x1="282.55" y1="808.10" x2="440.70" y2="808.10" stroke="#231f20" stroke-width="1.3" />
<line x1="278.60" y1="688.00" x2="283.20" y2="688.00" stroke="#231f20" stroke-width="1.1" />
<text x="277.10" y="691.30" font-size="9.3" text-anchor="end" stroke="#231f20" stroke-width="0.25">1.00</text>
<line x1="278.60" y1="748.05" x2="283.20" y2="748.05" stroke="#231f20" stroke-width="1.1" />
<text x="277.10" y="751.35" font-size="9.3" text-anchor="end" stroke="#231f20" stroke-width="0.25">0.50</text>
<line x1="278.60" y1="808.10" x2="283.20" y2="808.10" stroke="#231f20" stroke-width="1.1" />
<text x="277.10" y="811.40" font-size="9.3" text-anchor="end" stroke="#231f20" stroke-width="0.25">0.25</text>
<line x1="283.20" y1="808.10" x2="283.20" y2="812.10" stroke="#231f20" stroke-width="1.1" />
<text x="283.20" y="820.80" font-size="9.6" text-anchor="middle" stroke="#231f20" stroke-width="0.25">0</text>
<line x1="361.65" y1="808.10" x2="361.65" y2="812.10" stroke="#231f20" stroke-width="1.1" />
<text x="361.65" y="820.80" font-size="9.6" text-anchor="middle" stroke="#231f20" stroke-width="0.25">3</text>
<line x1="440.10" y1="808.10" x2="440.10" y2="812.10" stroke="#231f20" stroke-width="1.1" />
<text x="440.10" y="820.80" font-size="9.6" text-anchor="middle" stroke="#231f20" stroke-width="0.25">6</text>
<text x="362.30" y="832.00" font-size="10.5" text-anchor="middle" stroke="#231f20" stroke-width="0.25">Time (h)</text>
<text x="255.60" y="746.80" font-size="9.35" text-anchor="middle" transform="rotate(-90 255.60 746.80)" stroke="#231f20" stroke-width="0.25">mRNA remaining</text>
<line x1="283.20" y1="688.00" x2="440.10" y2="698.30" stroke="#231f20" stroke-width="1.45" stroke-dasharray="4.2 1.8"/>
<line x1="283.20" y1="687.00" x2="440.10" y2="687.00" stroke="#d8352a" stroke-width="1.45" stroke-dasharray="4.2 1.8"/>
<line x1="283.20" y1="685.50" x2="283.20" y2="690.50" stroke="#d8352a" stroke-width="0.8" />
<line x1="281.20" y1="685.50" x2="285.20" y2="685.50" stroke="#d8352a" stroke-width="0.8" />
<line x1="281.20" y1="690.50" x2="285.20" y2="690.50" stroke="#d8352a" stroke-width="0.8" />
<path d="M283.20,685.70 L285.50,688.00 L283.20,690.30 L280.90,688.00 Z" fill="#d8352a" stroke="none" stroke-width="0.8" />
<path d="M361.65,690.90 L363.95,693.20 L361.65,695.50 L359.35,693.20 Z" fill="#d8352a" stroke="none" stroke-width="0.8" />
<rect x="281.00" y="685.80" width="4.40" height="4.40" fill="#231f20" />
<rect x="359.65" y="695.60" width="4.00" height="4.00" fill="#231f20" />
<rect x="438.10" y="693.60" width="4.00" height="4.00" fill="#231f20" />
<text x="304.40" y="701.70" font-size="9.6" fill="#231f20" stroke="#231f20" stroke-width="0.25">R<tspan font-size="5.6" dy="-3.6">2</tspan><tspan dy="3.6">=0.42</tspan></text>
<text x="388.40" y="708.60" font-size="9.6" fill="#d8352a" stroke="#d8352a" stroke-width="0.25">R<tspan font-size="5.6" dy="-3.6">2</tspan><tspan dy="3.6">=-0.08</tspan></text>
<rect x="293.40" y="780.80" width="3.80" height="3.80" fill="#231f20" />
<path d="M295.80,795.60 L298.00,797.80 L295.80,800.00 L293.60,797.80 Z" fill="#d8352a" stroke="none" stroke-width="0.8" />
<text x="298.60" y="785.50" font-size="9.4" stroke="#231f20" stroke-width="0.25">PABPC1-WT, t<tspan font-size="5.2" dy="3.3">1/2</tspan><tspan dy="-3.3">=32.7 h</tspan></text>
<text x="298.60" y="801.20" font-size="9.4" stroke="#231f20" stroke-width="0.25">PABPC1-K512R, t<tspan font-size="5.2" dy="3.3">1/2</tspan><tspan dy="-3.3">&gt;100 h</tspan></text>
<line x1="414.70" y1="779.00" x2="414.70" y2="799.50" stroke="#3a3a3a" stroke-width="0.9" />
<text x="417.60" y="792.00" font-size="8.0" stroke="#231f20" stroke-width="0.25">p=0.0042</text>
<text x="357.10" y="854.30" font-size="10.7" text-anchor="middle" stroke="#231f20" stroke-width="0.25"><tspan font-style="italic">BNIP3L</tspan> mRNA stability</text>
<text x="357.10" y="868.00" font-size="10.7" text-anchor="middle" stroke="#231f20" stroke-width="0.25">under stress condition</text>
<line x1="285.70" y1="873.20" x2="285.70" y2="992.10" stroke="#231f20" stroke-width="1.3" />
<line x1="285.05" y1="991.50" x2="441.60" y2="991.50" stroke="#231f20" stroke-width="1.3" />
<line x1="281.10" y1="873.20" x2="285.70" y2="873.20" stroke="#231f20" stroke-width="1.1" />
<text x="280.70" y="876.50" font-size="9.3" text-anchor="end" stroke="#231f20" stroke-width="0.25">1.00</text>
<line x1="281.10" y1="932.35" x2="285.70" y2="932.35" stroke="#231f20" stroke-width="1.1" />
<text x="280.70" y="935.65" font-size="9.3" text-anchor="end" stroke="#231f20" stroke-width="0.25">0.50</text>
<line x1="281.10" y1="991.50" x2="285.70" y2="991.50" stroke="#231f20" stroke-width="1.1" />
<text x="280.70" y="994.80" font-size="9.3" text-anchor="end" stroke="#231f20" stroke-width="0.25">0.25</text>
<line x1="285.70" y1="991.50" x2="285.70" y2="995.50" stroke="#231f20" stroke-width="1.1" />
<text x="285.70" y="1004.20" font-size="9.6" text-anchor="middle" stroke="#231f20" stroke-width="0.25">0</text>
<line x1="362.55" y1="991.50" x2="362.55" y2="995.50" stroke="#231f20" stroke-width="1.1" />
<text x="362.55" y="1004.20" font-size="9.6" text-anchor="middle" stroke="#231f20" stroke-width="0.25">3</text>
<line x1="439.40" y1="991.50" x2="439.40" y2="995.50" stroke="#231f20" stroke-width="1.1" />
<text x="439.40" y="1004.20" font-size="9.6" text-anchor="middle" stroke="#231f20" stroke-width="0.25">6</text>
<text x="362.00" y="1017.30" font-size="10.5" text-anchor="middle" stroke="#231f20" stroke-width="0.25">Time (h)</text>
<text x="256.20" y="934.80" font-size="9.35" text-anchor="middle" transform="rotate(-90 256.20 934.80)" stroke="#231f20" stroke-width="0.25">mRNA remaining</text>
<line x1="285.70" y1="873.20" x2="439.40" y2="908.50" stroke="#231f20" stroke-width="1.45" stroke-dasharray="4.2 1.8"/>
<line x1="285.70" y1="873.20" x2="439.40" y2="967.50" stroke="#d8352a" stroke-width="1.45" stroke-dasharray="4.2 1.8"/>
<path d="M285.70,870.90 L288.00,873.20 L285.70,875.50 L283.40,873.20 Z" fill="#d8352a" stroke="none" stroke-width="0.8" />
<line x1="362.55" y1="944.20" x2="362.55" y2="950.40" stroke="#d8352a" stroke-width="0.8" />
<line x1="360.55" y1="944.20" x2="364.55" y2="944.20" stroke="#d8352a" stroke-width="0.8" />
<line x1="360.55" y1="950.40" x2="364.55" y2="950.40" stroke="#d8352a" stroke-width="0.8" />
<path d="M362.55,945.30 L364.85,947.60 L362.55,949.90 L360.25,947.60 Z" fill="#d8352a" stroke="none" stroke-width="0.8" />
<line x1="439.40" y1="934.00" x2="439.40" y2="942.80" stroke="#d8352a" stroke-width="0.8" />
<line x1="437.40" y1="934.00" x2="441.40" y2="934.00" stroke="#d8352a" stroke-width="0.8" />
<line x1="437.40" y1="942.80" x2="441.40" y2="942.80" stroke="#d8352a" stroke-width="0.8" />
<path d="M439.40,936.10 L441.70,938.40 L439.40,940.70 L437.10,938.40 Z" fill="#d8352a" stroke="none" stroke-width="0.8" />
<rect x="283.50" y="871.00" width="4.40" height="4.40" fill="#231f20" />
<rect x="360.55" y="898.00" width="4.00" height="4.00" fill="#231f20" />
<rect x="437.40" y="900.30" width="4.00" height="4.00" fill="#231f20" />
<text x="391.80" y="894.80" font-size="9.6" fill="#231f20" stroke="#231f20" stroke-width="0.25">R<tspan font-size="5.6" dy="-3.6">2</tspan><tspan dy="3.6">=0.83</tspan></text>
<text x="297.80" y="910.90" font-size="9.6" fill="#d8352a" stroke="#d8352a" stroke-width="0.25">R<tspan font-size="5.6" dy="-3.6">2</tspan><tspan dy="3.6">=0.77</tspan></text>
<rect x="290.40" y="967.00" width="3.80" height="3.80" fill="#231f20" />
<path d="M292.80,980.50 L295.00,982.70 L292.80,984.90 L290.60,982.70 Z" fill="#d8352a" stroke="none" stroke-width="0.8" />
<text x="296.50" y="971.70" font-size="9.4" stroke="#231f20" stroke-width="0.25">PABPC1-WT,  t<tspan font-size="5.2" dy="3.3">1/2</tspan><tspan dy="-3.3">=9.9 h</tspan></text>
<text x="296.50" y="986.10" font-size="9.4" stroke="#231f20" stroke-width="0.25">PABPC1-K512R, t<tspan font-size="5.2" dy="3.3">1/2</tspan><tspan dy="-3.3">=3.8 h</tspan></text>
<line x1="410.20" y1="966.80" x2="410.20" y2="985.40" stroke="#3a3a3a" stroke-width="0.9" />
<text x="411.80" y="978.50" font-size="8.0" stroke="#231f20" stroke-width="0.25">p=0.0002</text>
<text x="583.10" y="663.50" font-size="10.7" text-anchor="middle" stroke="#231f20" stroke-width="0.25"><tspan font-style="italic">BECN1</tspan> mRNA stability</text>
<text x="583.10" y="676.30" font-size="10.7" text-anchor="middle" stroke="#231f20" stroke-width="0.25">under normal condition</text>
<text x="459.60" y="670.40" font-size="16" font-weight="bold" stroke="#231f20" stroke-width="0.25">j</text>
<line x1="507.60" y1="684.50" x2="507.60" y2="806.80" stroke="#231f20" stroke-width="1.3" />
<line x1="506.95" y1="806.20" x2="661.00" y2="806.20" stroke="#231f20" stroke-width="1.3" />
<line x1="503.00" y1="693.50" x2="507.60" y2="693.50" stroke="#231f20" stroke-width="1.1" />
<text x="502.60" y="696.80" font-size="9.3" text-anchor="end" stroke="#231f20" stroke-width="0.25">1.00</text>
<line x1="503.00" y1="749.85" x2="507.60" y2="749.85" stroke="#231f20" stroke-width="1.1" />
<text x="502.60" y="753.15" font-size="9.3" text-anchor="end" stroke="#231f20" stroke-width="0.25">0.50</text>
<line x1="503.00" y1="806.20" x2="507.60" y2="806.20" stroke="#231f20" stroke-width="1.1" />
<text x="502.60" y="809.50" font-size="9.3" text-anchor="end" stroke="#231f20" stroke-width="0.25">0.25</text>
<line x1="507.60" y1="806.20" x2="507.60" y2="810.20" stroke="#231f20" stroke-width="1.1" />
<text x="507.60" y="818.00" font-size="9.6" text-anchor="middle" stroke="#231f20" stroke-width="0.25">0</text>
<line x1="583.20" y1="806.20" x2="583.20" y2="810.20" stroke="#231f20" stroke-width="1.1" />
<text x="583.20" y="818.00" font-size="9.6" text-anchor="middle" stroke="#231f20" stroke-width="0.25">3</text>
<line x1="658.80" y1="806.20" x2="658.80" y2="810.20" stroke="#231f20" stroke-width="1.1" />
<text x="658.80" y="818.00" font-size="9.6" text-anchor="middle" stroke="#231f20" stroke-width="0.25">6</text>
<text x="586.00" y="831.60" font-size="10.5" text-anchor="middle" stroke="#231f20" stroke-width="0.25">Time (h)</text>
<text x="481.40" y="745.00" font-size="9.35" text-anchor="middle" transform="rotate(-90 481.40 745.00)" stroke="#231f20" stroke-width="0.25">mRNA remaining</text>
<line x1="507.60" y1="693.50" x2="658.80" y2="722.30" stroke="#231f20" stroke-width="1.45" stroke-dasharray="4.2 1.8"/>
<line x1="507.60" y1="693.50" x2="658.80" y2="740.70" stroke="#d8352a" stroke-width="1.45" stroke-dasharray="4.2 1.8"/>
<path d="M507.60,690.70 L509.90,693.00 L507.60,695.30 L505.30,693.00 Z" fill="#d8352a" stroke="none" stroke-width="0.8" />
<line x1="583.20" y1="727.30" x2="583.20" y2="732.70" stroke="#d8352a" stroke-width="0.8" />
<line x1="581.20" y1="727.30" x2="585.20" y2="727.30" stroke="#d8352a" stroke-width="0.8" />
<line x1="581.20" y1="732.70" x2="585.20" y2="732.70" stroke="#d8352a" stroke-width="0.8" />
<path d="M583.20,727.70 L585.50,730.00 L583.20,732.30 L580.90,730.00 Z" fill="#d8352a" stroke="none" stroke-width="0.8" />
<line x1="658.80" y1="729.00" x2="658.80" y2="734.00" stroke="#d8352a" stroke-width="0.8" />
<line x1="656.80" y1="729.00" x2="660.80" y2="729.00" stroke="#d8352a" stroke-width="0.8" />
<line x1="656.80" y1="734.00" x2="660.80" y2="734.00" stroke="#d8352a" stroke-width="0.8" />
<path d="M658.80,729.00 L661.10,731.30 L658.80,733.60 L656.50,731.30 Z" fill="#d8352a" stroke="none" stroke-width="0.8" />
<rect x="505.40" y="690.80" width="4.40" height="4.40" fill="#231f20" />
<rect x="581.20" y="719.30" width="4.00" height="4.00" fill="#231f20" />
<rect x="656.80" y="712.90" width="4.00" height="4.00" fill="#231f20" />
<text x="519.30" y="715.60" font-size="9.6" fill="#231f20" stroke="#231f20" stroke-width="0.25">R<tspan font-size="5.6" dy="-3.6">2</tspan><tspan dy="3.6">=0.55</tspan></text>
<text x="609.90" y="745.80" font-size="9.6" fill="#d8352a" stroke="#d8352a" stroke-width="0.25">R<tspan font-size="5.6" dy="-3.6">2</tspan><tspan dy="3.6">=0.82</tspan></text>
<rect x="514.90" y="780.30" width="3.80" height="3.80" fill="#231f20" />
<path d="M517.30,795.30 L519.50,797.50 L517.30,799.70 L515.10,797.50 Z" fill="#d8352a" stroke="none" stroke-width="0.8" />
<text x="521.00" y="785.00" font-size="9.4" stroke="#231f20" stroke-width="0.25">PABPC1-WT, t<tspan font-size="5.2" dy="3.3">1/2</tspan><tspan dy="-3.3">=11.5 h</tspan></text>
<text x="521.00" y="800.90" font-size="9.4" stroke="#231f20" stroke-width="0.25">PABPC1-K512R, t<tspan font-size="5.2" dy="3.3">1/2</tspan><tspan dy="-3.3">=7.1 h</tspan></text>
<line x1="635.70" y1="779.40" x2="635.70" y2="800.50" stroke="#3a3a3a" stroke-width="0.9" />
<text x="640.20" y="791.80" font-size="8.0" stroke="#231f20" stroke-width="0.25">p=0.0339</text>
<text x="588.00" y="852.90" font-size="10.7" text-anchor="middle" stroke="#231f20" stroke-width="0.25"><tspan font-style="italic">BECN1</tspan> mRNA stability</text>
<text x="588.00" y="866.00" font-size="10.7" text-anchor="middle" stroke="#231f20" stroke-width="0.25">under stress condition</text>
<line x1="508.30" y1="870.50" x2="508.30" y2="992.90" stroke="#231f20" stroke-width="1.3" />
<line x1="507.65" y1="992.30" x2="662.00" y2="992.30" stroke="#231f20" stroke-width="1.3" />
<line x1="503.70" y1="878.10" x2="508.30" y2="878.10" stroke="#231f20" stroke-width="1.1" />
<text x="504.40" y="881.40" font-size="9.3" text-anchor="end" stroke="#231f20" stroke-width="0.25">1.00</text>
<line x1="503.70" y1="935.20" x2="508.30" y2="935.20" stroke="#231f20" stroke-width="1.1" />
<text x="504.40" y="938.50" font-size="9.3" text-anchor="end" stroke="#231f20" stroke-width="0.25">0.50</text>
<line x1="503.70" y1="992.30" x2="508.30" y2="992.30" stroke="#231f20" stroke-width="1.1" />
<text x="504.40" y="995.60" font-size="9.3" text-anchor="end" stroke="#231f20" stroke-width="0.25">0.25</text>
<line x1="508.30" y1="992.30" x2="508.30" y2="996.30" stroke="#231f20" stroke-width="1.1" />
<text x="508.30" y="1003.90" font-size="9.6" text-anchor="middle" stroke="#231f20" stroke-width="0.25">0</text>
<line x1="584.05" y1="992.30" x2="584.05" y2="996.30" stroke="#231f20" stroke-width="1.1" />
<text x="584.05" y="1003.90" font-size="9.6" text-anchor="middle" stroke="#231f20" stroke-width="0.25">3</text>
<line x1="659.80" y1="992.30" x2="659.80" y2="996.30" stroke="#231f20" stroke-width="1.1" />
<text x="659.80" y="1003.90" font-size="9.6" text-anchor="middle" stroke="#231f20" stroke-width="0.25">6</text>
<text x="587.00" y="1016.40" font-size="10.5" text-anchor="middle" stroke="#231f20" stroke-width="0.25">Time (h)</text>
<text x="480.60" y="932.00" font-size="9.35" text-anchor="middle" transform="rotate(-90 480.60 932.00)" stroke="#231f20" stroke-width="0.25">mRNA remaining</text>
<line x1="508.30" y1="878.10" x2="659.80" y2="920.70" stroke="#231f20" stroke-width="1.45" stroke-dasharray="4.2 1.8"/>
<line x1="508.30" y1="878.10" x2="659.80" y2="958.40" stroke="#d8352a" stroke-width="1.45" stroke-dasharray="4.2 1.8"/>
<path d="M508.30,875.80 L510.60,878.10 L508.30,880.40 L506.00,878.10 Z" fill="#d8352a" stroke="none" stroke-width="0.8" />
<path d="M584.05,925.20 L586.35,927.50 L584.05,929.80 L581.75,927.50 Z" fill="#d8352a" stroke="none" stroke-width="0.8" />
<path d="M659.80,946.30 L662.10,948.60 L659.80,950.90 L657.50,948.60 Z" fill="#d8352a" stroke="none" stroke-width="0.8" />
<line x1="508.30" y1="875.50" x2="508.30" y2="880.70" stroke="#231f20" stroke-width="0.8" />
<line x1="506.30" y1="875.50" x2="510.30" y2="875.50" stroke="#231f20" stroke-width="0.8" />
<line x1="506.30" y1="880.70" x2="510.30" y2="880.70" stroke="#231f20" stroke-width="0.8" />
<rect x="506.10" y="875.90" width="4.40" height="4.40" fill="#231f20" />
<line x1="584.05" y1="900.60" x2="584.05" y2="920.70" stroke="#231f20" stroke-width="0.8" />
<line x1="582.05" y1="900.60" x2="586.05" y2="900.60" stroke="#231f20" stroke-width="0.8" />
<line x1="582.05" y1="920.70" x2="586.05" y2="920.70" stroke="#231f20" stroke-width="0.8" />
<rect x="582.05" y="906.00" width="4.00" height="4.00" fill="#231f20" />
<line x1="659.80" y1="910.70" x2="659.80" y2="920.70" stroke="#231f20" stroke-width="0.8" />
<line x1="657.80" y1="910.70" x2="661.80" y2="910.70" stroke="#231f20" stroke-width="0.8" />
<line x1="657.80" y1="920.70" x2="661.80" y2="920.70" stroke="#231f20" stroke-width="0.8" />
<rect x="657.80" y="912.70" width="4.00" height="4.00" fill="#231f20" />
<text x="618.50" y="905.30" font-size="9.6" fill="#231f20" stroke="#231f20" stroke-width="0.25">R<tspan font-size="5.6" dy="-3.6">2</tspan><tspan dy="3.6">=0.85</tspan></text>
<text x="627.10" y="940.20" font-size="9.6" fill="#231f20" stroke="#231f20" stroke-width="0.25">R<tspan font-size="5.6" dy="-3.6">2</tspan><tspan dy="3.6">=0.96</tspan></text>
<rect x="515.50" y="965.40" width="3.80" height="3.80" fill="#231f20" />
<path d="M517.90,980.30 L520.10,982.50 L517.90,984.70 L515.70,982.50 Z" fill="#d8352a" stroke="none" stroke-width="0.8" />
<text x="521.00" y="970.10" font-size="9.4" stroke="#231f20" stroke-width="0.25">PABPC1-WT, t<tspan font-size="5.2" dy="3.3">1/2</tspan><tspan dy="-3.3">=8.0 h</tspan></text>
<text x="521.00" y="985.90" font-size="9.4" stroke="#231f20" stroke-width="0.25">PABPC1-K512R, t<tspan font-size="5.2" dy="3.3">1/2</tspan><tspan dy="-3.3">=4.2 h</tspan></text>
<line x1="636.30" y1="963.70" x2="636.30" y2="986.20" stroke="#3a3a3a" stroke-width="0.9" />
<text x="637.80" y="977.20" font-size="8.0" stroke="#231f20" stroke-width="0.25">p&lt;0.0001</text>
</svg>
</body></html>
